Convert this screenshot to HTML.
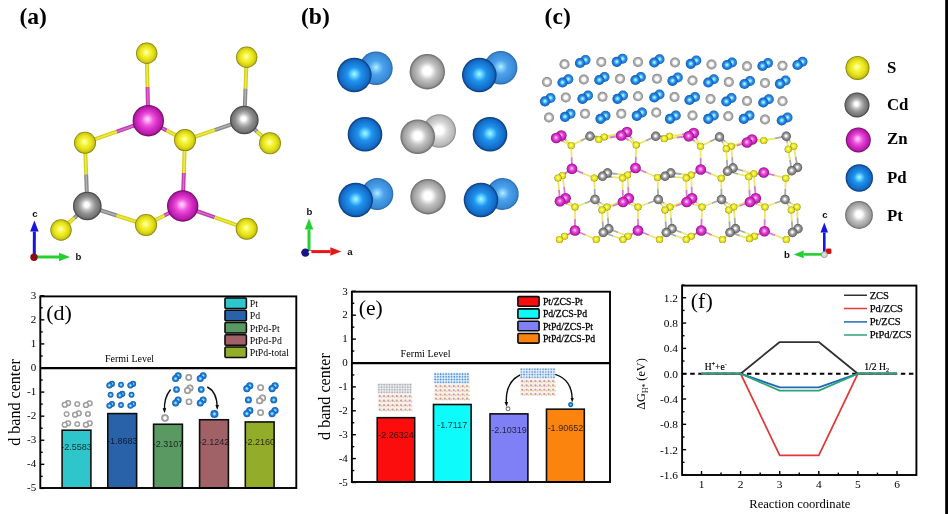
<!DOCTYPE html>
<html lang="en"><head><meta charset="utf-8"><title>Figure</title>
<style>html,body{margin:0;padding:0;background:#fff;overflow:hidden}svg{display:block}</style>
</head><body>
<svg width="948" height="514" viewBox="0 0 948 514">
<defs>
<radialGradient id="gS" cx="0.5" cy="0.5" r="0.5" fx="0.47" fy="0.45">
<stop offset="0" stop-color="#ffffd8"/>
<stop offset="0.13" stop-color="#ffff88"/>
<stop offset="0.36" stop-color="#f4f138"/>
<stop offset="0.6" stop-color="#e9e520"/>
<stop offset="0.86" stop-color="#ccc810"/>
<stop offset="1" stop-color="#7a7600"/>
</radialGradient>
<radialGradient id="gZn" cx="0.5" cy="0.5" r="0.5" fx="0.47" fy="0.45">
<stop offset="0" stop-color="#ffe4ff"/>
<stop offset="0.13" stop-color="#ffb0f8"/>
<stop offset="0.36" stop-color="#ee58de"/>
<stop offset="0.6" stop-color="#d830c8"/>
<stop offset="0.86" stop-color="#b81ca8"/>
<stop offset="1" stop-color="#6a0862"/>
</radialGradient>
<radialGradient id="gCd" cx="0.5" cy="0.5" r="0.5" fx="0.47" fy="0.45">
<stop offset="0" stop-color="#ffffff"/>
<stop offset="0.14" stop-color="#ffffff"/>
<stop offset="0.38" stop-color="#bcbcbc"/>
<stop offset="0.62" stop-color="#8e8e8e"/>
<stop offset="0.86" stop-color="#747474"/>
<stop offset="1" stop-color="#363636"/>
</radialGradient>
<radialGradient id="gPd" cx="0.5" cy="0.5" r="0.5" fx="0.5" fy="0.47">
<stop offset="0" stop-color="#b0f8ff"/>
<stop offset="0.14" stop-color="#70dcff"/>
<stop offset="0.4" stop-color="#2094f0"/>
<stop offset="0.86" stop-color="#1268c2"/>
<stop offset="1" stop-color="#063676"/>
</radialGradient>
<radialGradient id="gPdB" cx="0.5" cy="0.5" r="0.5" fx="0.5" fy="0.47">
<stop offset="0" stop-color="#b8f0ff"/>
<stop offset="0.16" stop-color="#84d0fc"/>
<stop offset="0.42" stop-color="#4ca2ec"/>
<stop offset="0.88" stop-color="#3888d4"/>
<stop offset="1" stop-color="#2464a8"/>
</radialGradient>
<radialGradient id="gPt" cx="0.5" cy="0.5" r="0.5" fx="0.5" fy="0.47">
<stop offset="0" stop-color="#ffffff"/>
<stop offset="0.22" stop-color="#ffffff"/>
<stop offset="0.5" stop-color="#c4c4c4"/>
<stop offset="0.86" stop-color="#9a9a9a"/>
<stop offset="1" stop-color="#666666"/>
</radialGradient>
<radialGradient id="gPtB" cx="0.5" cy="0.5" r="0.5" fx="0.5" fy="0.47">
<stop offset="0" stop-color="#ffffff"/>
<stop offset="0.22" stop-color="#ffffff"/>
<stop offset="0.5" stop-color="#d8d8d8"/>
<stop offset="0.88" stop-color="#b8b8b8"/>
<stop offset="1" stop-color="#888888"/>
</radialGradient>
<radialGradient id="gPdM" cx="0.5" cy="0.5" r="0.5" fx="0.5" fy="0.47">
<stop offset="0" stop-color="#b0f0ff"/>
<stop offset="0.16" stop-color="#78d0fc"/>
<stop offset="0.42" stop-color="#389cec"/>
<stop offset="0.85" stop-color="#2c80d4"/>
<stop offset="1" stop-color="#2068b4"/>
</radialGradient>
<radialGradient id="gsPt" cx="0.5" cy="0.5" r="0.5" fx="0.5" fy="0.48">
<stop offset="0" stop-color="#ffffff"/>
<stop offset="0.36" stop-color="#ffffff"/>
<stop offset="0.62" stop-color="#b8b8b8"/>
<stop offset="0.88" stop-color="#989898"/>
<stop offset="1" stop-color="#6c6c6c"/>
</radialGradient>
<radialGradient id="gsPd" cx="0.5" cy="0.5" r="0.5" fx="0.5" fy="0.48">
<stop offset="0" stop-color="#d4fcff"/>
<stop offset="0.26" stop-color="#74d2ff"/>
<stop offset="0.56" stop-color="#2088e8"/>
<stop offset="0.88" stop-color="#1668c4"/>
<stop offset="1" stop-color="#0a4088"/>
</radialGradient>
<radialGradient id="gsPdB" cx="0.5" cy="0.5" r="0.5" fx="0.5" fy="0.48">
<stop offset="0" stop-color="#d4fcff"/>
<stop offset="0.26" stop-color="#7cd6ff"/>
<stop offset="0.56" stop-color="#2c90ea"/>
<stop offset="0.88" stop-color="#1e72cc"/>
<stop offset="1" stop-color="#104c98"/>
</radialGradient>
<radialGradient id="gmg" cx="0.5" cy="0.5" r="0.5" fx="0.5" fy="0.5">
<stop offset="0" stop-color="#ffffff"/>
<stop offset="0.36" stop-color="#ffffff"/>
<stop offset="0.6" stop-color="#ababab"/>
<stop offset="0.9" stop-color="#959595"/>
<stop offset="1" stop-color="#808080"/>
</radialGradient>
<radialGradient id="gmb" cx="0.5" cy="0.5" r="0.5" fx="0.5" fy="0.5">
<stop offset="0" stop-color="#d0f4ff"/>
<stop offset="0.24" stop-color="#88d4ff"/>
<stop offset="0.52" stop-color="#2084e0"/>
<stop offset="0.9" stop-color="#1466c0"/>
<stop offset="1" stop-color="#0c4c98"/>
</radialGradient>
<marker id="ah" markerUnits="userSpaceOnUse" markerWidth="6" markerHeight="4" refX="2.4" refY="2" orient="auto"><path d="M0 0.2L5 2L0 3.8Z" fill="#111"/></marker>
<filter id="soft" x="0" y="0" width="948" height="514" filterUnits="userSpaceOnUse"><feGaussianBlur stdDeviation="0.45"/></filter>
</defs>
<rect width="948" height="514" fill="#fff"/>
<g filter="url(#soft)">
<g id="pa" stroke-linecap="butt" fill="none">
<path d="M146.7 53.3L147.5 87" stroke="#d4d018" stroke-width="4"/>
<path d="M147.5 87L148.3 120.7" stroke="#bc3cac" stroke-width="4"/>
<path d="M146.7 53.3L147.5 87" stroke="#ecea50" stroke-width="1.5"/>
<path d="M147.5 87L148.3 120.7" stroke="#dc68d0" stroke-width="1.5"/>
<path d="M246.7 57.3L245.5 88.65" stroke="#d4d018" stroke-width="4"/>
<path d="M245.5 88.65L244.3 120" stroke="#888888" stroke-width="4"/>
<path d="M246.7 57.3L245.5 88.65" stroke="#ecea50" stroke-width="1.5"/>
<path d="M245.5 88.65L244.3 120" stroke="#b0b0b0" stroke-width="1.5"/>
<path d="M148.3 120.7L116.65 131.7" stroke="#bc3cac" stroke-width="4"/>
<path d="M116.65 131.7L85 142.7" stroke="#d4d018" stroke-width="4"/>
<path d="M148.3 120.7L116.65 131.7" stroke="#dc68d0" stroke-width="1.5"/>
<path d="M116.65 131.7L85 142.7" stroke="#ecea50" stroke-width="1.5"/>
<path d="M148.3 120.7L166.65 130.4" stroke="#bc3cac" stroke-width="4"/>
<path d="M166.65 130.4L185 140.1" stroke="#d4d018" stroke-width="4"/>
<path d="M148.3 120.7L166.65 130.4" stroke="#dc68d0" stroke-width="1.5"/>
<path d="M166.65 130.4L185 140.1" stroke="#ecea50" stroke-width="1.5"/>
<path d="M244.3 120L214.65 130.05" stroke="#888888" stroke-width="4"/>
<path d="M214.65 130.05L185 140.1" stroke="#d4d018" stroke-width="4"/>
<path d="M244.3 120L214.65 130.05" stroke="#b0b0b0" stroke-width="1.5"/>
<path d="M214.65 130.05L185 140.1" stroke="#ecea50" stroke-width="1.5"/>
<path d="M244.3 120L257.15 131.65" stroke="#888888" stroke-width="4"/>
<path d="M257.15 131.65L270 143.3" stroke="#d4d018" stroke-width="4"/>
<path d="M244.3 120L257.15 131.65" stroke="#b0b0b0" stroke-width="1.5"/>
<path d="M257.15 131.65L270 143.3" stroke="#ecea50" stroke-width="1.5"/>
<path d="M85 142.7L86.15 174.35" stroke="#d4d018" stroke-width="4"/>
<path d="M86.15 174.35L87.3 206" stroke="#888888" stroke-width="4"/>
<path d="M85 142.7L86.15 174.35" stroke="#ecea50" stroke-width="1.5"/>
<path d="M86.15 174.35L87.3 206" stroke="#b0b0b0" stroke-width="1.5"/>
<path d="M185 140.1L183.85 173.05" stroke="#d4d018" stroke-width="4"/>
<path d="M183.85 173.05L182.7 206" stroke="#bc3cac" stroke-width="4"/>
<path d="M185 140.1L183.85 173.05" stroke="#ecea50" stroke-width="1.5"/>
<path d="M183.85 173.05L182.7 206" stroke="#dc68d0" stroke-width="1.5"/>
<path d="M87.3 206L74.15 218" stroke="#888888" stroke-width="4"/>
<path d="M74.15 218L61 230" stroke="#d4d018" stroke-width="4"/>
<path d="M87.3 206L74.15 218" stroke="#b0b0b0" stroke-width="1.5"/>
<path d="M74.15 218L61 230" stroke="#ecea50" stroke-width="1.5"/>
<path d="M87.3 206L116.65 215.5" stroke="#888888" stroke-width="4"/>
<path d="M116.65 215.5L146 225" stroke="#d4d018" stroke-width="4"/>
<path d="M87.3 206L116.65 215.5" stroke="#b0b0b0" stroke-width="1.5"/>
<path d="M116.65 215.5L146 225" stroke="#ecea50" stroke-width="1.5"/>
<path d="M182.7 206L164.35 215.5" stroke="#bc3cac" stroke-width="4"/>
<path d="M164.35 215.5L146 225" stroke="#d4d018" stroke-width="4"/>
<path d="M182.7 206L164.35 215.5" stroke="#dc68d0" stroke-width="1.5"/>
<path d="M164.35 215.5L146 225" stroke="#ecea50" stroke-width="1.5"/>
<path d="M182.7 206L214.7 217.35" stroke="#bc3cac" stroke-width="4"/>
<path d="M214.7 217.35L246.7 228.7" stroke="#d4d018" stroke-width="4"/>
<path d="M182.7 206L214.7 217.35" stroke="#dc68d0" stroke-width="1.5"/>
<path d="M214.7 217.35L246.7 228.7" stroke="#ecea50" stroke-width="1.5"/>
</g><g id="pa2">
<circle cx="146.7" cy="53.3" r="10.7" fill="url(#gS)"/>
<circle cx="246.7" cy="57.3" r="10.7" fill="url(#gS)"/>
<circle cx="148.3" cy="120.7" r="15.7" fill="url(#gZn)"/>
<circle cx="244.3" cy="120" r="14.3" fill="url(#gCd)"/>
<circle cx="270" cy="143.3" r="11" fill="url(#gS)"/>
<circle cx="185" cy="140.1" r="11" fill="url(#gS)"/>
<circle cx="85" cy="142.7" r="11" fill="url(#gS)"/>
<circle cx="87.3" cy="206" r="14.3" fill="url(#gCd)"/>
<circle cx="182.7" cy="206" r="15.7" fill="url(#gZn)"/>
<circle cx="61" cy="230" r="10.7" fill="url(#gS)"/>
<circle cx="146" cy="225" r="11" fill="url(#gS)"/>
<circle cx="246.7" cy="228.7" r="11" fill="url(#gS)"/>
</g>
<path d="M34.3 257L34.37 231.6" stroke="#1818e0" stroke-width="3" fill="none"/>
<path d="M34.4 220.6L38.62 231.61L30.12 231.59Z" fill="#1818e0"/>
<path d="M34.3 257L59 257" stroke="#20d030" stroke-width="3" fill="none"/>
<path d="M70 257L59 261.25L59 252.75Z" fill="#20d030"/>
<circle cx="34" cy="257.2" r="3.7" fill="#8c0c18"/>
<text x="35" y="217" font-family='"Liberation Sans", "DejaVu Sans", sans-serif' font-weight="bold" font-size="9.6" text-anchor="middle" fill="#111">c</text>
<text x="78.5" y="260" font-family='"Liberation Sans", "DejaVu Sans", sans-serif' font-weight="bold" font-size="9.6" text-anchor="middle" fill="#111">b</text>
<path d="M309 252L309 229.5" stroke="#20d030" stroke-width="3" fill="none"/>
<path d="M309 218.5L313.25 229.5L304.75 229.5Z" fill="#20d030"/>
<path d="M307 251.6L330.3 251.6" stroke="#e81818" stroke-width="3" fill="none"/>
<path d="M341.3 251.6L330.3 255.85L330.3 247.35Z" fill="#e81818"/>
<circle cx="305.4" cy="252.6" r="4.2" fill="#141480"/>
<circle cx="310" cy="252" r="1.6" fill="#f4f4f4"/>
<text x="309.4" y="214.6" font-family='"Liberation Sans", "DejaVu Sans", sans-serif' font-weight="bold" font-size="9.6" text-anchor="middle" fill="#111">b</text>
<text x="349.8" y="254.6" font-family='"Liberation Sans", "DejaVu Sans", sans-serif' font-weight="bold" font-size="9.6" text-anchor="middle" fill="#111">a</text>
<path d="M824.3 254L824.3 232.4" stroke="#1818e0" stroke-width="2.6" fill="none"/>
<path d="M824.3 222.4L828.1 232.4L820.5 232.4Z" fill="#1818e0"/>
<path d="M824.3 254.4L803.7 254.4" stroke="#20d030" stroke-width="2.6" fill="none"/>
<path d="M793.7 254.4L803.7 250.6L803.7 258.2Z" fill="#20d030"/>
<rect x="826" y="248.6" width="5.4" height="5.4" rx="1.4" fill="#d81010"/>
<circle cx="824.3" cy="254.6" r="3" fill="#d8d8d8" stroke="#888" stroke-width="0.8"/>
<text x="825" y="218.4" font-family='"Liberation Sans", "DejaVu Sans", sans-serif' font-weight="bold" font-size="9.6" text-anchor="middle" fill="#111">c</text>
<text x="786.9" y="257.6" font-family='"Liberation Sans", "DejaVu Sans", sans-serif' font-weight="bold" font-size="9.6" text-anchor="middle" fill="#111">b</text>
<text x="19.4" y="24" font-family='"Liberation Serif", "DejaVu Serif", serif' font-weight="bold" font-size="23.6" fill="#000">(a)</text>
<text x="301" y="24" font-family='"Liberation Serif", "DejaVu Serif", serif' font-weight="bold" font-size="23.6" fill="#000">(b)</text>
<text x="544.6" y="24" font-family='"Liberation Serif", "DejaVu Serif", serif' font-weight="bold" font-size="23.6" fill="#000">(c)</text>
<g id="pb">
<circle cx="376" cy="68.3" r="16.7" fill="url(#gPdB)"/>
<circle cx="354.3" cy="75" r="17.3" fill="url(#gPd)"/>
<circle cx="427.3" cy="71.7" r="17.7" fill="url(#gPt)"/>
<circle cx="500.7" cy="67.7" r="16.7" fill="url(#gPdB)"/>
<circle cx="479.3" cy="75" r="17.3" fill="url(#gPd)"/>
<circle cx="365" cy="134.3" r="17.3" fill="url(#gPd)"/>
<circle cx="439.3" cy="131" r="16.7" fill="url(#gPtB)"/>
<circle cx="417.7" cy="136.7" r="17.3" fill="url(#gPt)"/>
<circle cx="490" cy="134.3" r="17.3" fill="url(#gPd)"/>
<circle cx="377.3" cy="194" r="16" fill="url(#gPdB)"/>
<circle cx="355.7" cy="200" r="17.3" fill="url(#gPd)"/>
<circle cx="428" cy="196.7" r="17.7" fill="url(#gPt)"/>
<circle cx="502.7" cy="194" r="16" fill="url(#gPdB)"/>
<circle cx="481" cy="200" r="17.3" fill="url(#gPd)"/>
</g>
<g id="pc">
<circle cx="564.5" cy="64.3" r="5" fill="url(#gsPt)"/>
<circle cx="601.3" cy="62" r="5" fill="url(#gsPt)"/>
<circle cx="638" cy="62" r="5" fill="url(#gsPt)"/>
<circle cx="675" cy="62.5" r="5" fill="url(#gsPt)"/>
<circle cx="711.5" cy="64.5" r="5" fill="url(#gsPt)"/>
<circle cx="747" cy="66.3" r="5" fill="url(#gsPt)"/>
<circle cx="782.5" cy="65.8" r="5" fill="url(#gsPt)"/>
<circle cx="547" cy="82" r="5" fill="url(#gsPt)"/>
<circle cx="583.8" cy="79.5" r="5" fill="url(#gsPt)"/>
<circle cx="620" cy="78.8" r="5" fill="url(#gsPt)"/>
<circle cx="657" cy="78.8" r="5" fill="url(#gsPt)"/>
<circle cx="692.5" cy="80.5" r="5" fill="url(#gsPt)"/>
<circle cx="728.8" cy="82" r="5" fill="url(#gsPt)"/>
<circle cx="765" cy="83" r="5" fill="url(#gsPt)"/>
<circle cx="565.8" cy="97.5" r="5" fill="url(#gsPt)"/>
<circle cx="602.5" cy="96.8" r="5" fill="url(#gsPt)"/>
<circle cx="638" cy="96.3" r="5" fill="url(#gsPt)"/>
<circle cx="674.5" cy="97" r="5" fill="url(#gsPt)"/>
<circle cx="710.5" cy="99" r="5" fill="url(#gsPt)"/>
<circle cx="747" cy="101" r="5" fill="url(#gsPt)"/>
<circle cx="782.5" cy="101.3" r="5" fill="url(#gsPt)"/>
<circle cx="549" cy="117.5" r="5" fill="url(#gsPt)"/>
<circle cx="585" cy="113.8" r="5" fill="url(#gsPt)"/>
<circle cx="621.3" cy="113.8" r="5" fill="url(#gsPt)"/>
<circle cx="656.3" cy="112.5" r="5" fill="url(#gsPt)"/>
<circle cx="692.5" cy="115.5" r="5" fill="url(#gsPt)"/>
<circle cx="728.3" cy="116.3" r="5" fill="url(#gsPt)"/>
<circle cx="765" cy="119.5" r="5" fill="url(#gsPt)"/>
<circle cx="585.5" cy="60" r="5" fill="url(#gsPdB)"/>
<circle cx="580" cy="63" r="5.1" fill="url(#gsPd)"/>
<circle cx="622.5" cy="58.8" r="5" fill="url(#gsPdB)"/>
<circle cx="616.8" cy="61.8" r="5.1" fill="url(#gsPd)"/>
<circle cx="659.5" cy="59.3" r="5" fill="url(#gsPdB)"/>
<circle cx="654.3" cy="62.5" r="5.1" fill="url(#gsPd)"/>
<circle cx="696.3" cy="60.5" r="5" fill="url(#gsPdB)"/>
<circle cx="690.8" cy="63.8" r="5.1" fill="url(#gsPd)"/>
<circle cx="732" cy="62.5" r="5" fill="url(#gsPdB)"/>
<circle cx="727" cy="65" r="5.1" fill="url(#gsPd)"/>
<circle cx="768" cy="63" r="5" fill="url(#gsPdB)"/>
<circle cx="762.5" cy="66" r="5.1" fill="url(#gsPd)"/>
<circle cx="802.5" cy="61.8" r="5" fill="url(#gsPdB)"/>
<circle cx="797.5" cy="65" r="5.1" fill="url(#gsPd)"/>
<circle cx="568.3" cy="79.3" r="5" fill="url(#gsPdB)"/>
<circle cx="562.5" cy="82.5" r="5.1" fill="url(#gsPd)"/>
<circle cx="604.5" cy="77" r="5" fill="url(#gsPdB)"/>
<circle cx="599.3" cy="80" r="5.1" fill="url(#gsPd)"/>
<circle cx="640.8" cy="77" r="5" fill="url(#gsPdB)"/>
<circle cx="635.5" cy="80" r="5.1" fill="url(#gsPd)"/>
<circle cx="677.8" cy="77.5" r="5" fill="url(#gsPdB)"/>
<circle cx="672.5" cy="80.8" r="5.1" fill="url(#gsPd)"/>
<circle cx="713.8" cy="79.3" r="5" fill="url(#gsPdB)"/>
<circle cx="708.3" cy="82.5" r="5.1" fill="url(#gsPd)"/>
<circle cx="750" cy="81" r="5" fill="url(#gsPdB)"/>
<circle cx="744.5" cy="84" r="5.1" fill="url(#gsPd)"/>
<circle cx="785.5" cy="80.5" r="5" fill="url(#gsPdB)"/>
<circle cx="780" cy="83.8" r="5.1" fill="url(#gsPd)"/>
<circle cx="550.5" cy="98" r="5" fill="url(#gsPdB)"/>
<circle cx="545" cy="101.3" r="5.1" fill="url(#gsPd)"/>
<circle cx="588" cy="95.5" r="5" fill="url(#gsPdB)"/>
<circle cx="582.5" cy="98.8" r="5.1" fill="url(#gsPd)"/>
<circle cx="623" cy="95.5" r="5" fill="url(#gsPdB)"/>
<circle cx="617.5" cy="98.8" r="5.1" fill="url(#gsPd)"/>
<circle cx="659.5" cy="94.5" r="5" fill="url(#gsPdB)"/>
<circle cx="654.3" cy="97.5" r="5.1" fill="url(#gsPd)"/>
<circle cx="695" cy="97" r="5" fill="url(#gsPdB)"/>
<circle cx="689.5" cy="100" r="5.1" fill="url(#gsPd)"/>
<circle cx="731.5" cy="98" r="5" fill="url(#gsPdB)"/>
<circle cx="726.3" cy="101.5" r="5.1" fill="url(#gsPd)"/>
<circle cx="768.8" cy="99.3" r="5" fill="url(#gsPdB)"/>
<circle cx="763.3" cy="102.5" r="5.1" fill="url(#gsPd)"/>
<circle cx="570.5" cy="113.8" r="5" fill="url(#gsPdB)"/>
<circle cx="565" cy="116.8" r="5.1" fill="url(#gsPd)"/>
<circle cx="605.5" cy="115.8" r="5" fill="url(#gsPdB)"/>
<circle cx="600.5" cy="118.8" r="5.1" fill="url(#gsPd)"/>
<circle cx="642" cy="112.5" r="5" fill="url(#gsPdB)"/>
<circle cx="636.8" cy="115.8" r="5.1" fill="url(#gsPd)"/>
<circle cx="675.8" cy="115.5" r="5" fill="url(#gsPdB)"/>
<circle cx="670" cy="118.8" r="5.1" fill="url(#gsPd)"/>
<circle cx="713.8" cy="115.5" r="5" fill="url(#gsPdB)"/>
<circle cx="708.3" cy="118.8" r="5.1" fill="url(#gsPd)"/>
<circle cx="749.5" cy="115.5" r="5" fill="url(#gsPdB)"/>
<circle cx="743.8" cy="118.8" r="5.1" fill="url(#gsPd)"/>
<circle cx="787.5" cy="117.5" r="5" fill="url(#gsPdB)"/>
<circle cx="781.8" cy="120.5" r="5.1" fill="url(#gsPd)"/>
<g fill="none" stroke-linecap="butt">
<path d="M561.25 135.5L566.25 140.5" stroke="#da7cce" stroke-width="1.8"/>
<path d="M566.25 140.5L571.25 145.5" stroke="#eae868" stroke-width="1.8"/>
<path d="M556.25 138L563.75 141.75" stroke="#da7cce" stroke-width="1.8"/>
<path d="M563.75 141.75L571.25 145.5" stroke="#eae868" stroke-width="1.8"/>
<path d="M627 132L631.62 138.5" stroke="#da7cce" stroke-width="1.8"/>
<path d="M631.62 138.5L636.25 145" stroke="#eae868" stroke-width="1.8"/>
<path d="M627 132L615.62 134.5" stroke="#da7cce" stroke-width="1.8"/>
<path d="M615.62 134.5L604.25 137" stroke="#eae868" stroke-width="1.8"/>
<path d="M621.25 135.5L628.75 140.25" stroke="#da7cce" stroke-width="1.8"/>
<path d="M628.75 140.25L636.25 145" stroke="#eae868" stroke-width="1.8"/>
<path d="M621.25 135.5L610 137.5" stroke="#da7cce" stroke-width="1.8"/>
<path d="M610 137.5L598.75 139.5" stroke="#eae868" stroke-width="1.8"/>
<path d="M693.75 133L697.12 139.62" stroke="#da7cce" stroke-width="1.8"/>
<path d="M697.12 139.62L700.5 146.25" stroke="#eae868" stroke-width="1.8"/>
<path d="M693.75 133L681.62 134.62" stroke="#da7cce" stroke-width="1.8"/>
<path d="M681.62 134.62L669.5 136.25" stroke="#eae868" stroke-width="1.8"/>
<path d="M688.75 136.25L694.62 141.25" stroke="#da7cce" stroke-width="1.8"/>
<path d="M694.62 141.25L700.5 146.25" stroke="#eae868" stroke-width="1.8"/>
<path d="M688.75 136.25L676.5 137.5" stroke="#da7cce" stroke-width="1.8"/>
<path d="M676.5 137.5L664.25 138.75" stroke="#eae868" stroke-width="1.8"/>
<path d="M752 139.5L757.88 140" stroke="#da7cce" stroke-width="1.8"/>
<path d="M757.88 140L763.75 140.5" stroke="#eae868" stroke-width="1.8"/>
<path d="M752 139.5L741.62 142.88" stroke="#da7cce" stroke-width="1.8"/>
<path d="M741.62 142.88L731.25 146.25" stroke="#eae868" stroke-width="1.8"/>
<path d="M747 142.5L755.38 141.5" stroke="#da7cce" stroke-width="1.8"/>
<path d="M755.38 141.5L763.75 140.5" stroke="#eae868" stroke-width="1.8"/>
<path d="M747 142.5L736.62 145.62" stroke="#da7cce" stroke-width="1.8"/>
<path d="M736.62 145.62L726.25 148.75" stroke="#eae868" stroke-width="1.8"/>
<path d="M590 136.25L580.62 140.88" stroke="#aaaaaa" stroke-width="1.8"/>
<path d="M580.62 140.88L571.25 145.5" stroke="#eae868" stroke-width="1.8"/>
<path d="M590 136.25L597.12 136.62" stroke="#aaaaaa" stroke-width="1.8"/>
<path d="M597.12 136.62L604.25 137" stroke="#eae868" stroke-width="1.8"/>
<path d="M590 136.25L594.38 137.88" stroke="#aaaaaa" stroke-width="1.8"/>
<path d="M594.38 137.88L598.75 139.5" stroke="#eae868" stroke-width="1.8"/>
<path d="M655.75 136.25L646 140.62" stroke="#aaaaaa" stroke-width="1.8"/>
<path d="M646 140.62L636.25 145" stroke="#eae868" stroke-width="1.8"/>
<path d="M655.75 136.25L662.62 136.25" stroke="#aaaaaa" stroke-width="1.8"/>
<path d="M662.62 136.25L669.5 136.25" stroke="#eae868" stroke-width="1.8"/>
<path d="M655.75 136.25L660 137.5" stroke="#aaaaaa" stroke-width="1.8"/>
<path d="M660 137.5L664.25 138.75" stroke="#eae868" stroke-width="1.8"/>
<path d="M719.5 137L710 141.62" stroke="#aaaaaa" stroke-width="1.8"/>
<path d="M710 141.62L700.5 146.25" stroke="#eae868" stroke-width="1.8"/>
<path d="M719.5 137L725.38 141.62" stroke="#aaaaaa" stroke-width="1.8"/>
<path d="M725.38 141.62L731.25 146.25" stroke="#eae868" stroke-width="1.8"/>
<path d="M719.5 137L722.88 142.88" stroke="#aaaaaa" stroke-width="1.8"/>
<path d="M722.88 142.88L726.25 148.75" stroke="#eae868" stroke-width="1.8"/>
<path d="M572 168.75L571.62 157.12" stroke="#da7cce" stroke-width="1.8"/>
<path d="M571.62 157.12L571.25 145.5" stroke="#eae868" stroke-width="1.8"/>
<path d="M572 168.75L567.25 172.12" stroke="#da7cce" stroke-width="1.8"/>
<path d="M567.25 172.12L562.5 175.5" stroke="#eae868" stroke-width="1.8"/>
<path d="M572 168.75L565 173.38" stroke="#da7cce" stroke-width="1.8"/>
<path d="M565 173.38L558 178" stroke="#eae868" stroke-width="1.8"/>
<path d="M572 168.75L583.12 173.38" stroke="#da7cce" stroke-width="1.8"/>
<path d="M583.12 173.38L594.25 178" stroke="#eae868" stroke-width="1.8"/>
<path d="M635.5 168L635.88 156.5" stroke="#da7cce" stroke-width="1.8"/>
<path d="M635.88 156.5L636.25 145" stroke="#eae868" stroke-width="1.8"/>
<path d="M635.5 168L631.5 171.5" stroke="#da7cce" stroke-width="1.8"/>
<path d="M631.5 171.5L627.5 175" stroke="#eae868" stroke-width="1.8"/>
<path d="M635.5 168L629 173" stroke="#da7cce" stroke-width="1.8"/>
<path d="M629 173L622.5 178" stroke="#eae868" stroke-width="1.8"/>
<path d="M635.5 168L646.5 172.75" stroke="#da7cce" stroke-width="1.8"/>
<path d="M646.5 172.75L657.5 177.5" stroke="#eae868" stroke-width="1.8"/>
<path d="M700.75 169.5L700.62 157.88" stroke="#da7cce" stroke-width="1.8"/>
<path d="M700.62 157.88L700.5 146.25" stroke="#eae868" stroke-width="1.8"/>
<path d="M700.75 169.5L696 172.25" stroke="#da7cce" stroke-width="1.8"/>
<path d="M696 172.25L691.25 175" stroke="#eae868" stroke-width="1.8"/>
<path d="M700.75 169.5L693.5 173.75" stroke="#da7cce" stroke-width="1.8"/>
<path d="M693.5 173.75L686.25 178" stroke="#eae868" stroke-width="1.8"/>
<path d="M700.75 169.5L711 173.88" stroke="#da7cce" stroke-width="1.8"/>
<path d="M711 173.88L721.25 178.25" stroke="#eae868" stroke-width="1.8"/>
<path d="M763.75 172.5L758.75 173.12" stroke="#da7cce" stroke-width="1.8"/>
<path d="M758.75 173.12L753.75 173.75" stroke="#eae868" stroke-width="1.8"/>
<path d="M763.75 172.5L756.25 174.62" stroke="#da7cce" stroke-width="1.8"/>
<path d="M756.25 174.62L748.75 176.75" stroke="#eae868" stroke-width="1.8"/>
<path d="M763.75 172.5L774.75 175.38" stroke="#da7cce" stroke-width="1.8"/>
<path d="M774.75 175.38L785.75 178.25" stroke="#eae868" stroke-width="1.8"/>
<path d="M607.5 173L617.5 174" stroke="#aaaaaa" stroke-width="1.8"/>
<path d="M617.5 174L627.5 175" stroke="#eae868" stroke-width="1.8"/>
<path d="M607.5 173L600.88 175.5" stroke="#aaaaaa" stroke-width="1.8"/>
<path d="M600.88 175.5L594.25 178" stroke="#eae868" stroke-width="1.8"/>
<path d="M602.5 176.25L612.5 177.12" stroke="#aaaaaa" stroke-width="1.8"/>
<path d="M612.5 177.12L622.5 178" stroke="#eae868" stroke-width="1.8"/>
<path d="M602.5 176.25L598.38 177.12" stroke="#aaaaaa" stroke-width="1.8"/>
<path d="M598.38 177.12L594.25 178" stroke="#eae868" stroke-width="1.8"/>
<path d="M670.75 173L681 174" stroke="#aaaaaa" stroke-width="1.8"/>
<path d="M681 174L691.25 175" stroke="#eae868" stroke-width="1.8"/>
<path d="M670.75 173L664.12 175.25" stroke="#aaaaaa" stroke-width="1.8"/>
<path d="M664.12 175.25L657.5 177.5" stroke="#eae868" stroke-width="1.8"/>
<path d="M665 176.25L675.62 177.12" stroke="#aaaaaa" stroke-width="1.8"/>
<path d="M675.62 177.12L686.25 178" stroke="#eae868" stroke-width="1.8"/>
<path d="M665 176.25L661.25 176.88" stroke="#aaaaaa" stroke-width="1.8"/>
<path d="M661.25 176.88L657.5 177.5" stroke="#eae868" stroke-width="1.8"/>
<path d="M733 168L732.12 157.12" stroke="#aaaaaa" stroke-width="1.8"/>
<path d="M732.12 157.12L731.25 146.25" stroke="#eae868" stroke-width="1.8"/>
<path d="M733 168L743.38 170.88" stroke="#aaaaaa" stroke-width="1.8"/>
<path d="M743.38 170.88L753.75 173.75" stroke="#eae868" stroke-width="1.8"/>
<path d="M733 168L727.12 173.12" stroke="#aaaaaa" stroke-width="1.8"/>
<path d="M727.12 173.12L721.25 178.25" stroke="#eae868" stroke-width="1.8"/>
<path d="M727.5 171.25L726.88 160" stroke="#aaaaaa" stroke-width="1.8"/>
<path d="M726.88 160L726.25 148.75" stroke="#eae868" stroke-width="1.8"/>
<path d="M727.5 171.25L738.12 174" stroke="#aaaaaa" stroke-width="1.8"/>
<path d="M738.12 174L748.75 176.75" stroke="#eae868" stroke-width="1.8"/>
<path d="M727.5 171.25L724.38 174.75" stroke="#aaaaaa" stroke-width="1.8"/>
<path d="M724.38 174.75L721.25 178.25" stroke="#eae868" stroke-width="1.8"/>
<path d="M565.5 198.25L564 186.88" stroke="#da7cce" stroke-width="1.8"/>
<path d="M564 186.88L562.5 175.5" stroke="#eae868" stroke-width="1.8"/>
<path d="M565.5 198.25L570.25 202.62" stroke="#da7cce" stroke-width="1.8"/>
<path d="M570.25 202.62L575 207" stroke="#eae868" stroke-width="1.8"/>
<path d="M560 201.25L559 189.62" stroke="#da7cce" stroke-width="1.8"/>
<path d="M559 189.62L558 178" stroke="#eae868" stroke-width="1.8"/>
<path d="M560 201.25L567.5 204.12" stroke="#da7cce" stroke-width="1.8"/>
<path d="M567.5 204.12L575 207" stroke="#eae868" stroke-width="1.8"/>
<path d="M628.75 198.25L628.12 186.62" stroke="#da7cce" stroke-width="1.8"/>
<path d="M628.12 186.62L627.5 175" stroke="#eae868" stroke-width="1.8"/>
<path d="M628.75 198.25L633.38 202.62" stroke="#da7cce" stroke-width="1.8"/>
<path d="M633.38 202.62L638 207" stroke="#eae868" stroke-width="1.8"/>
<path d="M628.75 198.25L617.88 202.62" stroke="#da7cce" stroke-width="1.8"/>
<path d="M617.88 202.62L607 207" stroke="#eae868" stroke-width="1.8"/>
<path d="M623 202L622.75 190" stroke="#da7cce" stroke-width="1.8"/>
<path d="M622.75 190L622.5 178" stroke="#eae868" stroke-width="1.8"/>
<path d="M623 202L630.5 204.5" stroke="#da7cce" stroke-width="1.8"/>
<path d="M630.5 204.5L638 207" stroke="#eae868" stroke-width="1.8"/>
<path d="M623 202L612.5 206" stroke="#da7cce" stroke-width="1.8"/>
<path d="M612.5 206L602 210" stroke="#eae868" stroke-width="1.8"/>
<path d="M692 198.25L691.62 186.62" stroke="#da7cce" stroke-width="1.8"/>
<path d="M691.62 186.62L691.25 175" stroke="#eae868" stroke-width="1.8"/>
<path d="M692 198.25L697 202.62" stroke="#da7cce" stroke-width="1.8"/>
<path d="M697 202.62L702 207" stroke="#eae868" stroke-width="1.8"/>
<path d="M692 198.25L681 202.62" stroke="#da7cce" stroke-width="1.8"/>
<path d="M681 202.62L670 207" stroke="#eae868" stroke-width="1.8"/>
<path d="M686.75 202L686.5 190" stroke="#da7cce" stroke-width="1.8"/>
<path d="M686.5 190L686.25 178" stroke="#eae868" stroke-width="1.8"/>
<path d="M686.75 202L694.38 204.5" stroke="#da7cce" stroke-width="1.8"/>
<path d="M694.38 204.5L702 207" stroke="#eae868" stroke-width="1.8"/>
<path d="M686.75 202L675.88 206" stroke="#da7cce" stroke-width="1.8"/>
<path d="M675.88 206L665 210" stroke="#eae868" stroke-width="1.8"/>
<path d="M755.75 198.25L754.75 186" stroke="#da7cce" stroke-width="1.8"/>
<path d="M754.75 186L753.75 173.75" stroke="#eae868" stroke-width="1.8"/>
<path d="M755.75 198.25L760.38 202.62" stroke="#da7cce" stroke-width="1.8"/>
<path d="M760.38 202.62L765 207" stroke="#eae868" stroke-width="1.8"/>
<path d="M755.75 198.25L744.75 202.62" stroke="#da7cce" stroke-width="1.8"/>
<path d="M744.75 202.62L733.75 207" stroke="#eae868" stroke-width="1.8"/>
<path d="M750 202L749.38 189.38" stroke="#da7cce" stroke-width="1.8"/>
<path d="M749.38 189.38L748.75 176.75" stroke="#eae868" stroke-width="1.8"/>
<path d="M750 202L757.5 204.5" stroke="#da7cce" stroke-width="1.8"/>
<path d="M757.5 204.5L765 207" stroke="#eae868" stroke-width="1.8"/>
<path d="M750 202L739.38 206" stroke="#da7cce" stroke-width="1.8"/>
<path d="M739.38 206L728.75 210" stroke="#eae868" stroke-width="1.8"/>
<path d="M595 199.5L594.62 188.75" stroke="#aaaaaa" stroke-width="1.8"/>
<path d="M594.62 188.75L594.25 178" stroke="#eae868" stroke-width="1.8"/>
<path d="M595 199.5L585 203.25" stroke="#aaaaaa" stroke-width="1.8"/>
<path d="M585 203.25L575 207" stroke="#eae868" stroke-width="1.8"/>
<path d="M595 199.5L601 203.25" stroke="#aaaaaa" stroke-width="1.8"/>
<path d="M601 203.25L607 207" stroke="#eae868" stroke-width="1.8"/>
<path d="M595 199.5L598.5 204.75" stroke="#aaaaaa" stroke-width="1.8"/>
<path d="M598.5 204.75L602 210" stroke="#eae868" stroke-width="1.8"/>
<path d="M658.25 199.5L657.88 188.5" stroke="#aaaaaa" stroke-width="1.8"/>
<path d="M657.88 188.5L657.5 177.5" stroke="#eae868" stroke-width="1.8"/>
<path d="M658.25 199.5L648.12 203.25" stroke="#aaaaaa" stroke-width="1.8"/>
<path d="M648.12 203.25L638 207" stroke="#eae868" stroke-width="1.8"/>
<path d="M658.25 199.5L664.12 203.25" stroke="#aaaaaa" stroke-width="1.8"/>
<path d="M664.12 203.25L670 207" stroke="#eae868" stroke-width="1.8"/>
<path d="M658.25 199.5L661.62 204.75" stroke="#aaaaaa" stroke-width="1.8"/>
<path d="M661.62 204.75L665 210" stroke="#eae868" stroke-width="1.8"/>
<path d="M721.5 199.5L721.38 188.88" stroke="#aaaaaa" stroke-width="1.8"/>
<path d="M721.38 188.88L721.25 178.25" stroke="#eae868" stroke-width="1.8"/>
<path d="M721.5 199.5L711.75 203.25" stroke="#aaaaaa" stroke-width="1.8"/>
<path d="M711.75 203.25L702 207" stroke="#eae868" stroke-width="1.8"/>
<path d="M721.5 199.5L727.62 203.25" stroke="#aaaaaa" stroke-width="1.8"/>
<path d="M727.62 203.25L733.75 207" stroke="#eae868" stroke-width="1.8"/>
<path d="M721.5 199.5L725.12 204.75" stroke="#aaaaaa" stroke-width="1.8"/>
<path d="M725.12 204.75L728.75 210" stroke="#eae868" stroke-width="1.8"/>
<path d="M575 230.5L575 218.75" stroke="#da7cce" stroke-width="1.8"/>
<path d="M575 218.75L575 207" stroke="#eae868" stroke-width="1.8"/>
<path d="M575 230.5L569.75 233.38" stroke="#da7cce" stroke-width="1.8"/>
<path d="M569.75 233.38L564.5 236.25" stroke="#eae868" stroke-width="1.8"/>
<path d="M575 230.5L567.25 235" stroke="#da7cce" stroke-width="1.8"/>
<path d="M567.25 235L559.5 239.5" stroke="#eae868" stroke-width="1.8"/>
<path d="M575 230.5L585.62 235" stroke="#da7cce" stroke-width="1.8"/>
<path d="M585.62 235L596.25 239.5" stroke="#eae868" stroke-width="1.8"/>
<path d="M638 230.5L638 218.75" stroke="#da7cce" stroke-width="1.8"/>
<path d="M638 218.75L638 207" stroke="#eae868" stroke-width="1.8"/>
<path d="M638 230.5L633 233.38" stroke="#da7cce" stroke-width="1.8"/>
<path d="M633 233.38L628 236.25" stroke="#eae868" stroke-width="1.8"/>
<path d="M638 230.5L630.5 235" stroke="#da7cce" stroke-width="1.8"/>
<path d="M630.5 235L623 239.5" stroke="#eae868" stroke-width="1.8"/>
<path d="M638 230.5L648.75 235" stroke="#da7cce" stroke-width="1.8"/>
<path d="M648.75 235L659.5 239.5" stroke="#eae868" stroke-width="1.8"/>
<path d="M701.25 230.5L701.62 218.75" stroke="#da7cce" stroke-width="1.8"/>
<path d="M701.62 218.75L702 207" stroke="#eae868" stroke-width="1.8"/>
<path d="M701.25 230.5L696.25 233.38" stroke="#da7cce" stroke-width="1.8"/>
<path d="M696.25 233.38L691.25 236.25" stroke="#eae868" stroke-width="1.8"/>
<path d="M701.25 230.5L693.75 235" stroke="#da7cce" stroke-width="1.8"/>
<path d="M693.75 235L686.25 239.5" stroke="#eae868" stroke-width="1.8"/>
<path d="M701.25 230.5L711.88 235" stroke="#da7cce" stroke-width="1.8"/>
<path d="M711.88 235L722.5 239.5" stroke="#eae868" stroke-width="1.8"/>
<path d="M764.5 231.25L764.75 219.12" stroke="#da7cce" stroke-width="1.8"/>
<path d="M764.75 219.12L765 207" stroke="#eae868" stroke-width="1.8"/>
<path d="M764.5 231.25L759.5 233.75" stroke="#da7cce" stroke-width="1.8"/>
<path d="M759.5 233.75L754.5 236.25" stroke="#eae868" stroke-width="1.8"/>
<path d="M764.5 231.25L757 235" stroke="#da7cce" stroke-width="1.8"/>
<path d="M757 235L749.5 238.75" stroke="#eae868" stroke-width="1.8"/>
<path d="M764.5 231.25L775.38 235.38" stroke="#da7cce" stroke-width="1.8"/>
<path d="M775.38 235.38L786.25 239.5" stroke="#eae868" stroke-width="1.8"/>
<path d="M608.75 228.75L607.88 217.88" stroke="#aaaaaa" stroke-width="1.8"/>
<path d="M607.88 217.88L607 207" stroke="#eae868" stroke-width="1.8"/>
<path d="M608.75 228.75L618.38 232.5" stroke="#aaaaaa" stroke-width="1.8"/>
<path d="M618.38 232.5L628 236.25" stroke="#eae868" stroke-width="1.8"/>
<path d="M608.75 228.75L602.5 234.12" stroke="#aaaaaa" stroke-width="1.8"/>
<path d="M602.5 234.12L596.25 239.5" stroke="#eae868" stroke-width="1.8"/>
<path d="M603.25 232.5L602.62 221.25" stroke="#aaaaaa" stroke-width="1.8"/>
<path d="M602.62 221.25L602 210" stroke="#eae868" stroke-width="1.8"/>
<path d="M603.25 232.5L613.12 236" stroke="#aaaaaa" stroke-width="1.8"/>
<path d="M613.12 236L623 239.5" stroke="#eae868" stroke-width="1.8"/>
<path d="M603.25 232.5L599.75 236" stroke="#aaaaaa" stroke-width="1.8"/>
<path d="M599.75 236L596.25 239.5" stroke="#eae868" stroke-width="1.8"/>
<path d="M672 228.75L671 217.88" stroke="#aaaaaa" stroke-width="1.8"/>
<path d="M671 217.88L670 207" stroke="#eae868" stroke-width="1.8"/>
<path d="M672 228.75L681.62 232.5" stroke="#aaaaaa" stroke-width="1.8"/>
<path d="M681.62 232.5L691.25 236.25" stroke="#eae868" stroke-width="1.8"/>
<path d="M672 228.75L665.75 234.12" stroke="#aaaaaa" stroke-width="1.8"/>
<path d="M665.75 234.12L659.5 239.5" stroke="#eae868" stroke-width="1.8"/>
<path d="M666.25 232.5L665.62 221.25" stroke="#aaaaaa" stroke-width="1.8"/>
<path d="M665.62 221.25L665 210" stroke="#eae868" stroke-width="1.8"/>
<path d="M666.25 232.5L676.25 236" stroke="#aaaaaa" stroke-width="1.8"/>
<path d="M676.25 236L686.25 239.5" stroke="#eae868" stroke-width="1.8"/>
<path d="M666.25 232.5L662.88 236" stroke="#aaaaaa" stroke-width="1.8"/>
<path d="M662.88 236L659.5 239.5" stroke="#eae868" stroke-width="1.8"/>
<path d="M735.5 228.75L734.62 217.88" stroke="#aaaaaa" stroke-width="1.8"/>
<path d="M734.62 217.88L733.75 207" stroke="#eae868" stroke-width="1.8"/>
<path d="M735.5 228.75L745 232.5" stroke="#aaaaaa" stroke-width="1.8"/>
<path d="M745 232.5L754.5 236.25" stroke="#eae868" stroke-width="1.8"/>
<path d="M735.5 228.75L729 234.12" stroke="#aaaaaa" stroke-width="1.8"/>
<path d="M729 234.12L722.5 239.5" stroke="#eae868" stroke-width="1.8"/>
<path d="M730 232.5L729.38 221.25" stroke="#aaaaaa" stroke-width="1.8"/>
<path d="M729.38 221.25L728.75 210" stroke="#eae868" stroke-width="1.8"/>
<path d="M730 232.5L739.75 235.62" stroke="#aaaaaa" stroke-width="1.8"/>
<path d="M739.75 235.62L749.5 238.75" stroke="#eae868" stroke-width="1.8"/>
<path d="M730 232.5L726.25 236" stroke="#aaaaaa" stroke-width="1.8"/>
<path d="M726.25 236L722.5 239.5" stroke="#eae868" stroke-width="1.8"/>
<path d="M786.25 136.25L775 138.38" stroke="#aaaaaa" stroke-width="1.8"/>
<path d="M775 138.38L763.75 140.5" stroke="#eae868" stroke-width="1.8"/>
<path d="M786.25 136.25L790 141.25" stroke="#aaaaaa" stroke-width="1.8"/>
<path d="M790 141.25L793.75 146.25" stroke="#eae868" stroke-width="1.8"/>
<path d="M786.25 136.25L787.25 142.75" stroke="#aaaaaa" stroke-width="1.8"/>
<path d="M787.25 142.75L788.25 149.25" stroke="#eae868" stroke-width="1.8"/>
<path d="M797.5 167.5L795.62 156.88" stroke="#aaaaaa" stroke-width="1.8"/>
<path d="M795.62 156.88L793.75 146.25" stroke="#eae868" stroke-width="1.8"/>
<path d="M797.5 167.5L791.62 172.88" stroke="#aaaaaa" stroke-width="1.8"/>
<path d="M791.62 172.88L785.75 178.25" stroke="#eae868" stroke-width="1.8"/>
<path d="M791.75 170.75L790 160" stroke="#aaaaaa" stroke-width="1.8"/>
<path d="M790 160L788.25 149.25" stroke="#eae868" stroke-width="1.8"/>
<path d="M791.75 170.75L788.75 174.5" stroke="#aaaaaa" stroke-width="1.8"/>
<path d="M788.75 174.5L785.75 178.25" stroke="#eae868" stroke-width="1.8"/>
<path d="M785 199.5L775 203.25" stroke="#aaaaaa" stroke-width="1.8"/>
<path d="M775 203.25L765 207" stroke="#eae868" stroke-width="1.8"/>
<path d="M785 199.5L785.38 188.88" stroke="#aaaaaa" stroke-width="1.8"/>
<path d="M785.38 188.88L785.75 178.25" stroke="#eae868" stroke-width="1.8"/>
<path d="M785 199.5L791 203.25" stroke="#aaaaaa" stroke-width="1.8"/>
<path d="M791 203.25L797 207" stroke="#eae868" stroke-width="1.8"/>
<path d="M785 199.5L788.12 204.75" stroke="#aaaaaa" stroke-width="1.8"/>
<path d="M788.12 204.75L791.25 210" stroke="#eae868" stroke-width="1.8"/>
<path d="M798 228.75L797.5 217.88" stroke="#aaaaaa" stroke-width="1.8"/>
<path d="M797.5 217.88L797 207" stroke="#eae868" stroke-width="1.8"/>
<path d="M798 228.75L792.12 234.12" stroke="#aaaaaa" stroke-width="1.8"/>
<path d="M792.12 234.12L786.25 239.5" stroke="#eae868" stroke-width="1.8"/>
<path d="M792.5 232.5L791.88 221.25" stroke="#aaaaaa" stroke-width="1.8"/>
<path d="M791.88 221.25L791.25 210" stroke="#eae868" stroke-width="1.8"/>
<path d="M792.5 232.5L789.38 236" stroke="#aaaaaa" stroke-width="1.8"/>
<path d="M789.38 236L786.25 239.5" stroke="#eae868" stroke-width="1.8"/>
</g>
<circle cx="561.25" cy="135.5" r="5.35" fill="url(#gZn)"/>
<circle cx="627" cy="132" r="5.35" fill="url(#gZn)"/>
<circle cx="693.75" cy="133" r="5.35" fill="url(#gZn)"/>
<circle cx="752" cy="139.5" r="5.35" fill="url(#gZn)"/>
<circle cx="604.25" cy="137" r="3.6" fill="url(#gS)"/>
<circle cx="669.5" cy="136.25" r="3.6" fill="url(#gS)"/>
<circle cx="731.25" cy="146.25" r="3.6" fill="url(#gS)"/>
<circle cx="562.5" cy="175.5" r="3.6" fill="url(#gS)"/>
<circle cx="627.5" cy="175" r="3.6" fill="url(#gS)"/>
<circle cx="691.25" cy="175" r="3.6" fill="url(#gS)"/>
<circle cx="753.75" cy="173.75" r="3.6" fill="url(#gS)"/>
<circle cx="607.5" cy="173" r="4.7" fill="url(#gCd)"/>
<circle cx="670.75" cy="173" r="4.7" fill="url(#gCd)"/>
<circle cx="733" cy="168" r="4.7" fill="url(#gCd)"/>
<circle cx="565.5" cy="198.25" r="5.35" fill="url(#gZn)"/>
<circle cx="628.75" cy="198.25" r="5.35" fill="url(#gZn)"/>
<circle cx="692" cy="198.25" r="5.35" fill="url(#gZn)"/>
<circle cx="755.75" cy="198.25" r="5.35" fill="url(#gZn)"/>
<circle cx="607" cy="207" r="3.6" fill="url(#gS)"/>
<circle cx="670" cy="207" r="3.6" fill="url(#gS)"/>
<circle cx="733.75" cy="207" r="3.6" fill="url(#gS)"/>
<circle cx="564.5" cy="236.25" r="3.6" fill="url(#gS)"/>
<circle cx="628" cy="236.25" r="3.6" fill="url(#gS)"/>
<circle cx="691.25" cy="236.25" r="3.6" fill="url(#gS)"/>
<circle cx="754.5" cy="236.25" r="3.6" fill="url(#gS)"/>
<circle cx="608.75" cy="228.75" r="4.7" fill="url(#gCd)"/>
<circle cx="672" cy="228.75" r="4.7" fill="url(#gCd)"/>
<circle cx="735.5" cy="228.75" r="4.7" fill="url(#gCd)"/>
<circle cx="793.75" cy="146.25" r="3.6" fill="url(#gS)"/>
<circle cx="797.5" cy="167.5" r="4.7" fill="url(#gCd)"/>
<circle cx="797" cy="207" r="3.6" fill="url(#gS)"/>
<circle cx="798" cy="228.75" r="4.7" fill="url(#gCd)"/>
<circle cx="571.25" cy="145.5" r="3.6" fill="url(#gS)"/>
<circle cx="636.25" cy="145" r="3.6" fill="url(#gS)"/>
<circle cx="700.5" cy="146.25" r="3.6" fill="url(#gS)"/>
<circle cx="763.75" cy="140.5" r="3.6" fill="url(#gS)"/>
<circle cx="590" cy="136.25" r="4.7" fill="url(#gCd)"/>
<circle cx="655.75" cy="136.25" r="4.7" fill="url(#gCd)"/>
<circle cx="719.5" cy="137" r="4.7" fill="url(#gCd)"/>
<circle cx="572" cy="168.75" r="5.35" fill="url(#gZn)"/>
<circle cx="635.5" cy="168" r="5.35" fill="url(#gZn)"/>
<circle cx="700.75" cy="169.5" r="5.35" fill="url(#gZn)"/>
<circle cx="763.75" cy="172.5" r="5.35" fill="url(#gZn)"/>
<circle cx="594.25" cy="178" r="3.6" fill="url(#gS)"/>
<circle cx="657.5" cy="177.5" r="3.6" fill="url(#gS)"/>
<circle cx="721.25" cy="178.25" r="3.6" fill="url(#gS)"/>
<circle cx="575" cy="207" r="3.6" fill="url(#gS)"/>
<circle cx="638" cy="207" r="3.6" fill="url(#gS)"/>
<circle cx="702" cy="207" r="3.6" fill="url(#gS)"/>
<circle cx="765" cy="207" r="3.6" fill="url(#gS)"/>
<circle cx="595" cy="199.5" r="4.7" fill="url(#gCd)"/>
<circle cx="658.25" cy="199.5" r="4.7" fill="url(#gCd)"/>
<circle cx="721.5" cy="199.5" r="4.7" fill="url(#gCd)"/>
<circle cx="575" cy="230.5" r="5.35" fill="url(#gZn)"/>
<circle cx="638" cy="230.5" r="5.35" fill="url(#gZn)"/>
<circle cx="701.25" cy="230.5" r="5.35" fill="url(#gZn)"/>
<circle cx="764.5" cy="231.25" r="5.35" fill="url(#gZn)"/>
<circle cx="596.25" cy="239.5" r="3.6" fill="url(#gS)"/>
<circle cx="659.5" cy="239.5" r="3.6" fill="url(#gS)"/>
<circle cx="722.5" cy="239.5" r="3.6" fill="url(#gS)"/>
<circle cx="786.25" cy="136.25" r="4.7" fill="url(#gCd)"/>
<circle cx="785.75" cy="178.25" r="3.6" fill="url(#gS)"/>
<circle cx="785" cy="199.5" r="4.7" fill="url(#gCd)"/>
<circle cx="786.25" cy="239.5" r="3.6" fill="url(#gS)"/>
<circle cx="556.25" cy="138" r="5.35" fill="url(#gZn)"/>
<circle cx="621.25" cy="135.5" r="5.35" fill="url(#gZn)"/>
<circle cx="688.75" cy="136.25" r="5.35" fill="url(#gZn)"/>
<circle cx="747" cy="142.5" r="5.35" fill="url(#gZn)"/>
<circle cx="598.75" cy="139.5" r="3.6" fill="url(#gS)"/>
<circle cx="664.25" cy="138.75" r="3.6" fill="url(#gS)"/>
<circle cx="726.25" cy="148.75" r="3.6" fill="url(#gS)"/>
<circle cx="558" cy="178" r="3.6" fill="url(#gS)"/>
<circle cx="622.5" cy="178" r="3.6" fill="url(#gS)"/>
<circle cx="686.25" cy="178" r="3.6" fill="url(#gS)"/>
<circle cx="748.75" cy="176.75" r="3.6" fill="url(#gS)"/>
<circle cx="602.5" cy="176.25" r="4.7" fill="url(#gCd)"/>
<circle cx="665" cy="176.25" r="4.7" fill="url(#gCd)"/>
<circle cx="727.5" cy="171.25" r="4.7" fill="url(#gCd)"/>
<circle cx="560" cy="201.25" r="5.35" fill="url(#gZn)"/>
<circle cx="623" cy="202" r="5.35" fill="url(#gZn)"/>
<circle cx="686.75" cy="202" r="5.35" fill="url(#gZn)"/>
<circle cx="750" cy="202" r="5.35" fill="url(#gZn)"/>
<circle cx="602" cy="210" r="3.6" fill="url(#gS)"/>
<circle cx="665" cy="210" r="3.6" fill="url(#gS)"/>
<circle cx="728.75" cy="210" r="3.6" fill="url(#gS)"/>
<circle cx="559.5" cy="239.5" r="3.6" fill="url(#gS)"/>
<circle cx="623" cy="239.5" r="3.6" fill="url(#gS)"/>
<circle cx="686.25" cy="239.5" r="3.6" fill="url(#gS)"/>
<circle cx="749.5" cy="238.75" r="3.6" fill="url(#gS)"/>
<circle cx="603.25" cy="232.5" r="4.7" fill="url(#gCd)"/>
<circle cx="666.25" cy="232.5" r="4.7" fill="url(#gCd)"/>
<circle cx="730" cy="232.5" r="4.7" fill="url(#gCd)"/>
<circle cx="788.25" cy="149.25" r="3.6" fill="url(#gS)"/>
<circle cx="791.75" cy="170.75" r="4.7" fill="url(#gCd)"/>
<circle cx="791.25" cy="210" r="3.6" fill="url(#gS)"/>
<circle cx="792.5" cy="232.5" r="4.7" fill="url(#gCd)"/>
<circle cx="857.5" cy="68" r="12" fill="url(#gS)"/>
<text x="887" y="72.9" font-family='"Liberation Serif", "DejaVu Serif", serif' font-weight="bold" font-size="16.8" fill="#000">S</text>
<circle cx="857" cy="105" r="12.5" fill="url(#gCd)"/>
<text x="887" y="110.4" font-family='"Liberation Serif", "DejaVu Serif", serif' font-weight="bold" font-size="16.8" fill="#000">Cd</text>
<circle cx="858.3" cy="140" r="12.5" fill="url(#gZn)"/>
<text x="887" y="144.4" font-family='"Liberation Serif", "DejaVu Serif", serif' font-weight="bold" font-size="16.8" fill="#000">Zn</text>
<circle cx="859.3" cy="178" r="13.7" fill="url(#gPd)"/>
<text x="887" y="183.4" font-family='"Liberation Serif", "DejaVu Serif", serif' font-weight="bold" font-size="16.8" fill="#000">Pd</text>
<circle cx="859" cy="215" r="13.9" fill="url(#gPt)"/>
<text x="887" y="220.9" font-family='"Liberation Serif", "DejaVu Serif", serif' font-weight="bold" font-size="16.8" fill="#000">Pt</text>
</g>
<g id="pd">
<rect x="62.1" y="430.2" width="28.8" height="57.8" fill="#2ec6ca" stroke="#101010" stroke-width="1.6"/>
<text x="76.5" y="450.1" font-family='"Liberation Sans", "DejaVu Sans", sans-serif' font-size="9" font-weight="normal" text-anchor="middle" fill="#0a0a14" fill-opacity="0.8">-2.5583</text>
<rect x="107.8" y="413.59" width="28.8" height="74.41" fill="#2a62aa" stroke="#101010" stroke-width="1.6"/>
<text x="122.2" y="444.1" font-family='"Liberation Sans", "DejaVu Sans", sans-serif' font-size="9" font-weight="normal" text-anchor="middle" fill="#0a0a14" fill-opacity="0.8">-1.8683</text>
<rect x="153.6" y="424.24" width="28.8" height="63.76" fill="#5a9a62" stroke="#101010" stroke-width="1.6"/>
<text x="168" y="446.5" font-family='"Liberation Sans", "DejaVu Sans", sans-serif' font-size="9" font-weight="normal" text-anchor="middle" fill="#0a0a14" fill-opacity="0.8">-2.3107</text>
<rect x="199.6" y="419.75" width="28.8" height="68.25" fill="#a06266" stroke="#101010" stroke-width="1.6"/>
<text x="214" y="445.1" font-family='"Liberation Sans", "DejaVu Sans", sans-serif' font-size="9" font-weight="normal" text-anchor="middle" fill="#0a0a14" fill-opacity="0.8">-2.1242</text>
<rect x="245.3" y="421.96" width="28.8" height="66.04" fill="#93ad2c" stroke="#101010" stroke-width="1.6"/>
<text x="259.7" y="445.1" font-family='"Liberation Sans", "DejaVu Sans", sans-serif' font-size="9" font-weight="normal" text-anchor="middle" fill="#0a0a14" fill-opacity="0.8">-2.2160</text>
<path d="M40.3 368.15H296.3" stroke="#000" stroke-width="2.1"/>
<rect x="40.3" y="296.4" width="256" height="191.6" fill="none" stroke="#000" stroke-width="1.9"/>
<path d="M40.3 295.76h4" stroke="#000" stroke-width="1.4"/>
<text x="36.2" y="298.76" font-family='"Liberation Serif", "DejaVu Serif", serif' font-size="11" font-weight="normal" text-anchor="end" fill="#000" >3</text>
<path d="M40.3 307.8h2.4" stroke="#000" stroke-width="1.4"/>
<path d="M40.3 319.84h4" stroke="#000" stroke-width="1.4"/>
<text x="36.2" y="322.84" font-family='"Liberation Serif", "DejaVu Serif", serif' font-size="11" font-weight="normal" text-anchor="end" fill="#000" >2</text>
<path d="M40.3 331.88h2.4" stroke="#000" stroke-width="1.4"/>
<path d="M40.3 343.92h4" stroke="#000" stroke-width="1.4"/>
<text x="36.2" y="346.92" font-family='"Liberation Serif", "DejaVu Serif", serif' font-size="11" font-weight="normal" text-anchor="end" fill="#000" >1</text>
<path d="M40.3 355.96h2.4" stroke="#000" stroke-width="1.4"/>
<path d="M40.3 368h4" stroke="#000" stroke-width="1.4"/>
<text x="36.2" y="371" font-family='"Liberation Serif", "DejaVu Serif", serif' font-size="11" font-weight="normal" text-anchor="end" fill="#000" >0</text>
<path d="M40.3 380.04h2.4" stroke="#000" stroke-width="1.4"/>
<path d="M40.3 392.08h4" stroke="#000" stroke-width="1.4"/>
<text x="36.2" y="395.08" font-family='"Liberation Serif", "DejaVu Serif", serif' font-size="11" font-weight="normal" text-anchor="end" fill="#000" >-1</text>
<path d="M40.3 404.12h2.4" stroke="#000" stroke-width="1.4"/>
<path d="M40.3 416.16h4" stroke="#000" stroke-width="1.4"/>
<text x="36.2" y="419.16" font-family='"Liberation Serif", "DejaVu Serif", serif' font-size="11" font-weight="normal" text-anchor="end" fill="#000" >-2</text>
<path d="M40.3 428.2h2.4" stroke="#000" stroke-width="1.4"/>
<path d="M40.3 440.24h4" stroke="#000" stroke-width="1.4"/>
<text x="36.2" y="443.24" font-family='"Liberation Serif", "DejaVu Serif", serif' font-size="11" font-weight="normal" text-anchor="end" fill="#000" >-3</text>
<path d="M40.3 452.28h2.4" stroke="#000" stroke-width="1.4"/>
<path d="M40.3 464.32h4" stroke="#000" stroke-width="1.4"/>
<text x="36.2" y="467.32" font-family='"Liberation Serif", "DejaVu Serif", serif' font-size="11" font-weight="normal" text-anchor="end" fill="#000" >-4</text>
<path d="M40.3 476.36h2.4" stroke="#000" stroke-width="1.4"/>
<path d="M40.3 488.4h4" stroke="#000" stroke-width="1.4"/>
<text x="36.2" y="491.4" font-family='"Liberation Serif", "DejaVu Serif", serif' font-size="11" font-weight="normal" text-anchor="end" fill="#000" >-5</text>
<text x="46.3" y="319.8" font-family='"Liberation Serif", "DejaVu Serif", serif' font-size="22" font-weight="normal" text-anchor="start" fill="#000" >(d)</text>
<text x="105" y="362.4" font-family='"Liberation Serif", "DejaVu Serif", serif' font-size="10" font-weight="normal" text-anchor="start" fill="#000" >Fermi Level</text>
<text transform="translate(19.6,402.5) rotate(-90)" font-family='"Liberation Serif", "DejaVu Serif", serif' font-size="16.1" text-anchor="middle" fill="#000">d band center</text>
<rect x="225" y="297.9" width="21.4" height="10.6" rx="1" fill="#2ec6ca" stroke="#080808" stroke-width="1.55"/>
<text x="249.7" y="307.1" font-family='"Liberation Serif", "DejaVu Serif", serif' font-size="9.8" font-weight="normal" text-anchor="start" fill="#000" >Pt</text>
<rect x="225" y="310.15" width="21.4" height="10.6" rx="1" fill="#2a62aa" stroke="#080808" stroke-width="1.55"/>
<text x="249.7" y="319.35" font-family='"Liberation Serif", "DejaVu Serif", serif' font-size="9.8" font-weight="normal" text-anchor="start" fill="#000" >Pd</text>
<rect x="225" y="322.4" width="21.4" height="10.6" rx="1" fill="#5a9a62" stroke="#080808" stroke-width="1.55"/>
<text x="249.7" y="331.6" font-family='"Liberation Serif", "DejaVu Serif", serif' font-size="9.8" font-weight="normal" text-anchor="start" fill="#000" >PtPd-Pt</text>
<rect x="225" y="334.65" width="21.4" height="10.6" rx="1" fill="#a06266" stroke="#080808" stroke-width="1.55"/>
<text x="249.7" y="343.85" font-family='"Liberation Serif", "DejaVu Serif", serif' font-size="9.8" font-weight="normal" text-anchor="start" fill="#000" >PtPd-Pd</text>
<rect x="225" y="346.9" width="21.4" height="10.6" rx="1" fill="#93ad2c" stroke="#080808" stroke-width="1.55"/>
<text x="249.7" y="356.1" font-family='"Liberation Serif", "DejaVu Serif", serif' font-size="9.8" font-weight="normal" text-anchor="start" fill="#000" >PtPd-total</text>
<circle cx="68.1" cy="403.1" r="3.1" fill="url(#gmg)"/>
<circle cx="64.75" cy="404.75" r="3.1" fill="url(#gmg)"/>
<circle cx="89.6" cy="403.25" r="3.1" fill="url(#gmg)"/>
<circle cx="85.9" cy="405" r="3.1" fill="url(#gmg)"/>
<circle cx="78.75" cy="413.25" r="3.1" fill="url(#gmg)"/>
<circle cx="75" cy="414.75" r="3.1" fill="url(#gmg)"/>
<circle cx="68.1" cy="423.25" r="3.1" fill="url(#gmg)"/>
<circle cx="64.75" cy="424.75" r="3.1" fill="url(#gmg)"/>
<circle cx="89.6" cy="423.25" r="3.1" fill="url(#gmg)"/>
<circle cx="85.9" cy="424.75" r="3.1" fill="url(#gmg)"/>
<circle cx="77.25" cy="404.1" r="2.95" fill="url(#gmg)"/>
<circle cx="66.6" cy="414.1" r="2.95" fill="url(#gmg)"/>
<circle cx="87.9" cy="413.9" r="2.95" fill="url(#gmg)"/>
<circle cx="77.25" cy="424.1" r="2.95" fill="url(#gmg)"/>
<circle cx="111.9" cy="383.9" r="3.05" fill="url(#gmb)"/>
<circle cx="109.4" cy="385.4" r="3.05" fill="url(#gmb)"/>
<circle cx="133.1" cy="383.9" r="3.05" fill="url(#gmb)"/>
<circle cx="130.4" cy="385.4" r="3.05" fill="url(#gmb)"/>
<circle cx="122.25" cy="393.9" r="3.05" fill="url(#gmb)"/>
<circle cx="119.75" cy="395.4" r="3.05" fill="url(#gmb)"/>
<circle cx="111.9" cy="404.1" r="3.05" fill="url(#gmb)"/>
<circle cx="109.4" cy="405.75" r="3.05" fill="url(#gmb)"/>
<circle cx="133.1" cy="404.1" r="3.05" fill="url(#gmb)"/>
<circle cx="130.4" cy="405.75" r="3.05" fill="url(#gmb)"/>
<circle cx="121" cy="384.75" r="2.9" fill="url(#gmb)"/>
<circle cx="110.6" cy="394.75" r="2.9" fill="url(#gmb)"/>
<circle cx="131.5" cy="394.75" r="2.9" fill="url(#gmb)"/>
<circle cx="121" cy="405" r="2.9" fill="url(#gmb)"/>
<circle cx="178.1" cy="375.75" r="3.5" fill="url(#gmb)"/>
<circle cx="175.6" cy="378.6" r="3.5" fill="url(#gmb)"/>
<circle cx="203.1" cy="375.75" r="3.5" fill="url(#gmb)"/>
<circle cx="200.25" cy="378.6" r="3.5" fill="url(#gmb)"/>
<circle cx="190" cy="388" r="3.5" fill="url(#gmg)"/>
<circle cx="187.5" cy="390.5" r="3.5" fill="url(#gmg)"/>
<circle cx="178.1" cy="399.9" r="3.5" fill="url(#gmb)"/>
<circle cx="175.6" cy="403" r="3.5" fill="url(#gmb)"/>
<circle cx="203.1" cy="399.9" r="3.5" fill="url(#gmb)"/>
<circle cx="200.25" cy="403" r="3.5" fill="url(#gmb)"/>
<circle cx="188.75" cy="377.4" r="3.35" fill="url(#gmg)"/>
<circle cx="176.5" cy="389.5" r="3.35" fill="url(#gmb)"/>
<circle cx="201.25" cy="389.5" r="3.35" fill="url(#gmb)"/>
<circle cx="189" cy="401.75" r="3.35" fill="url(#gmg)"/>
<circle cx="249.75" cy="385.75" r="3.6" fill="url(#gmb)"/>
<circle cx="246.9" cy="388.6" r="3.6" fill="url(#gmb)"/>
<circle cx="275" cy="385.75" r="3.6" fill="url(#gmb)"/>
<circle cx="272.1" cy="388.6" r="3.6" fill="url(#gmb)"/>
<circle cx="262.5" cy="398" r="3.6" fill="url(#gmg)"/>
<circle cx="259.6" cy="400.75" r="3.6" fill="url(#gmg)"/>
<circle cx="249.75" cy="410.5" r="3.6" fill="url(#gmb)"/>
<circle cx="246.9" cy="413.6" r="3.6" fill="url(#gmb)"/>
<circle cx="275" cy="410.5" r="3.6" fill="url(#gmb)"/>
<circle cx="272.1" cy="413.6" r="3.6" fill="url(#gmb)"/>
<circle cx="260.6" cy="387.6" r="3.45" fill="url(#gmg)"/>
<circle cx="248.4" cy="399.9" r="3.45" fill="url(#gmb)"/>
<circle cx="273.75" cy="399.9" r="3.45" fill="url(#gmb)"/>
<circle cx="260.6" cy="412.6" r="3.45" fill="url(#gmg)"/>
<circle cx="165" cy="418" r="3.75" fill="url(#gmg)"/>
<circle cx="214.4" cy="414" r="4" fill="url(#gmb)"/>
<path d="M170.6 389.5C166 395 164 402 164.5 410.6" fill="none" stroke="#111" stroke-width="1.4" marker-end="url(#ah)"/>
<path d="M207.25 387C213.5 390 217 397 217.2 407.4" fill="none" stroke="#111" stroke-width="1.4" marker-end="url(#ah)"/>
</g>
<g id="pe">
<rect x="377.2" y="417.69" width="37.5" height="64.31" fill="#fb0d0d" stroke="#101010" stroke-width="1.6"/>
<text x="395.95" y="437.8" font-family='"Liberation Sans", "DejaVu Sans", sans-serif' font-size="9" font-weight="normal" text-anchor="middle" fill="#0a0a14" fill-opacity="0.8">-2.26324</text>
<rect x="433.5" y="404.51" width="37.6" height="77.49" fill="#10fbfa" stroke="#101010" stroke-width="1.6"/>
<text x="452.3" y="427.8" font-family='"Liberation Sans", "DejaVu Sans", sans-serif' font-size="9" font-weight="normal" text-anchor="middle" fill="#0a0a14" fill-opacity="0.8">-1.7117</text>
<rect x="490" y="413.87" width="37.9" height="68.13" fill="#8080f6" stroke="#101010" stroke-width="1.6"/>
<text x="508.95" y="432.8" font-family='"Liberation Sans", "DejaVu Sans", sans-serif' font-size="9" font-weight="normal" text-anchor="middle" fill="#0a0a14" fill-opacity="0.8">-2.10319</text>
<rect x="546.5" y="409.17" width="37.8" height="72.83" fill="#fa8410" stroke="#101010" stroke-width="1.6"/>
<text x="565.4" y="431.1" font-family='"Liberation Sans", "DejaVu Sans", sans-serif' font-size="9" font-weight="normal" text-anchor="middle" fill="#0a0a14" fill-opacity="0.8">-1.90652</text>
<path d="M351.9 363.15H610" stroke="#000" stroke-width="2.1"/>
<rect x="351.9" y="291.7" width="258.1" height="190.3" fill="none" stroke="#000" stroke-width="1.9"/>
<path d="M351.9 291.3h4" stroke="#000" stroke-width="1.4"/>
<text x="347.8" y="294.5" font-family='"Liberation Serif", "DejaVu Serif", serif' font-size="11" font-weight="normal" text-anchor="end" fill="#000" >3</text>
<path d="M351.9 303.25h2.4" stroke="#000" stroke-width="1.4"/>
<path d="M351.9 315.2h4" stroke="#000" stroke-width="1.4"/>
<text x="347.8" y="318.4" font-family='"Liberation Serif", "DejaVu Serif", serif' font-size="11" font-weight="normal" text-anchor="end" fill="#000" >2</text>
<path d="M351.9 327.15h2.4" stroke="#000" stroke-width="1.4"/>
<path d="M351.9 339.1h4" stroke="#000" stroke-width="1.4"/>
<text x="347.8" y="342.3" font-family='"Liberation Serif", "DejaVu Serif", serif' font-size="11" font-weight="normal" text-anchor="end" fill="#000" >1</text>
<path d="M351.9 351.05h2.4" stroke="#000" stroke-width="1.4"/>
<path d="M351.9 363h4" stroke="#000" stroke-width="1.4"/>
<text x="347.8" y="366.2" font-family='"Liberation Serif", "DejaVu Serif", serif' font-size="11" font-weight="normal" text-anchor="end" fill="#000" >0</text>
<path d="M351.9 374.95h2.4" stroke="#000" stroke-width="1.4"/>
<path d="M351.9 386.9h4" stroke="#000" stroke-width="1.4"/>
<text x="347.8" y="390.1" font-family='"Liberation Serif", "DejaVu Serif", serif' font-size="11" font-weight="normal" text-anchor="end" fill="#000" >-1</text>
<path d="M351.9 398.85h2.4" stroke="#000" stroke-width="1.4"/>
<path d="M351.9 410.8h4" stroke="#000" stroke-width="1.4"/>
<text x="347.8" y="414" font-family='"Liberation Serif", "DejaVu Serif", serif' font-size="11" font-weight="normal" text-anchor="end" fill="#000" >-2</text>
<path d="M351.9 422.75h2.4" stroke="#000" stroke-width="1.4"/>
<path d="M351.9 434.7h4" stroke="#000" stroke-width="1.4"/>
<text x="347.8" y="437.9" font-family='"Liberation Serif", "DejaVu Serif", serif' font-size="11" font-weight="normal" text-anchor="end" fill="#000" >-3</text>
<path d="M351.9 446.65h2.4" stroke="#000" stroke-width="1.4"/>
<path d="M351.9 458.6h4" stroke="#000" stroke-width="1.4"/>
<text x="347.8" y="461.8" font-family='"Liberation Serif", "DejaVu Serif", serif' font-size="11" font-weight="normal" text-anchor="end" fill="#000" >-4</text>
<path d="M351.9 470.55h2.4" stroke="#000" stroke-width="1.4"/>
<path d="M351.9 482.5h4" stroke="#000" stroke-width="1.4"/>
<text x="347.8" y="485.7" font-family='"Liberation Serif", "DejaVu Serif", serif' font-size="11" font-weight="normal" text-anchor="end" fill="#000" >-5</text>
<text x="358.8" y="315" font-family='"Liberation Serif", "DejaVu Serif", serif' font-size="21.6" font-weight="normal" text-anchor="start" fill="#000" >(e)</text>
<text x="400.6" y="356.5" font-family='"Liberation Serif", "DejaVu Serif", serif' font-size="10.2" font-weight="normal" text-anchor="start" fill="#000" >Fermi Level</text>
<text transform="translate(330.2,396.6) rotate(-90)" font-family='"Liberation Serif", "DejaVu Serif", serif' font-size="16.1" text-anchor="middle" fill="#000">d band center</text>
<rect x="517.9" y="296.6" width="21.2" height="9.6" rx="1" fill="#fb0d0d" stroke="#080808" stroke-width="1.6"/>
<text x="542.9" y="304.9" font-family='"Liberation Serif", "DejaVu Serif", serif' font-size="9.7" font-weight="normal" text-anchor="start" fill="#000" stroke="#000" stroke-width="0.28">Pt/ZCS-Pt</text>
<rect x="517.9" y="308.9" width="21.2" height="9.6" rx="1" fill="#10fbfa" stroke="#080808" stroke-width="1.6"/>
<text x="542.9" y="317.2" font-family='"Liberation Serif", "DejaVu Serif", serif' font-size="9.7" font-weight="normal" text-anchor="start" fill="#000" stroke="#000" stroke-width="0.28">Pd/ZCS-Pd</text>
<rect x="517.9" y="321.2" width="21.2" height="9.6" rx="1" fill="#8080f6" stroke="#080808" stroke-width="1.6"/>
<text x="542.9" y="329.5" font-family='"Liberation Serif", "DejaVu Serif", serif' font-size="9.7" font-weight="normal" text-anchor="start" fill="#000" stroke="#000" stroke-width="0.28">PtPd/ZCS-Pt</text>
<rect x="517.9" y="333.5" width="21.2" height="9.6" rx="1" fill="#fa8410" stroke="#080808" stroke-width="1.6"/>
<text x="542.9" y="341.8" font-family='"Liberation Serif", "DejaVu Serif", serif' font-size="9.7" font-weight="normal" text-anchor="start" fill="#000" stroke="#000" stroke-width="0.28">PtPd/ZCS-Pd</text>
<rect x="377.6" y="383.4" width="34.2" height="10.08" fill="#8890a0" opacity="0.13"/>
<rect x="377.6" y="393.48" width="34.2" height="17.92" fill="#f8dccc" opacity="0.42"/>
<path d="M377.6 384.66h34.2M377.6 387.18h34.2M377.6 389.7h34.2M377.6 392.22h34.2M378.92 383.4v10.08M381.55 383.4v10.08M384.18 383.4v10.08M386.81 383.4v10.08M389.44 383.4v10.08M392.07 383.4v10.08M394.7 383.4v10.08M397.33 383.4v10.08M399.96 383.4v10.08M402.59 383.4v10.08M405.22 383.4v10.08M407.85 383.4v10.08M410.48 383.4v10.08" stroke="#8890a0" stroke-width="0.45" opacity="0.55" fill="none"/>
<circle cx="378.92" cy="384.66" r="0.8" fill="#a0a4ac" opacity="0.8"/>
<circle cx="381.55" cy="384.66" r="0.8" fill="#b4b4b4" opacity="0.8"/>
<circle cx="384.18" cy="384.66" r="0.8" fill="#a0a4ac" opacity="0.8"/>
<circle cx="386.81" cy="384.66" r="0.8" fill="#b4b4b4" opacity="0.8"/>
<circle cx="389.44" cy="384.66" r="0.8" fill="#a0a4ac" opacity="0.8"/>
<circle cx="392.07" cy="384.66" r="0.8" fill="#b4b4b4" opacity="0.8"/>
<circle cx="394.7" cy="384.66" r="0.8" fill="#a0a4ac" opacity="0.8"/>
<circle cx="397.33" cy="384.66" r="0.8" fill="#b4b4b4" opacity="0.8"/>
<circle cx="399.96" cy="384.66" r="0.8" fill="#a0a4ac" opacity="0.8"/>
<circle cx="402.59" cy="384.66" r="0.8" fill="#b4b4b4" opacity="0.8"/>
<circle cx="405.22" cy="384.66" r="0.8" fill="#a0a4ac" opacity="0.8"/>
<circle cx="407.85" cy="384.66" r="0.8" fill="#b4b4b4" opacity="0.8"/>
<circle cx="410.48" cy="384.66" r="0.8" fill="#a0a4ac" opacity="0.8"/>
<circle cx="378.92" cy="387.18" r="0.8" fill="#b4b4b4" opacity="0.8"/>
<circle cx="381.55" cy="387.18" r="0.8" fill="#a0a4ac" opacity="0.8"/>
<circle cx="384.18" cy="387.18" r="0.8" fill="#b4b4b4" opacity="0.8"/>
<circle cx="386.81" cy="387.18" r="0.8" fill="#a0a4ac" opacity="0.8"/>
<circle cx="389.44" cy="387.18" r="0.8" fill="#b4b4b4" opacity="0.8"/>
<circle cx="392.07" cy="387.18" r="0.8" fill="#a0a4ac" opacity="0.8"/>
<circle cx="394.7" cy="387.18" r="0.8" fill="#b4b4b4" opacity="0.8"/>
<circle cx="397.33" cy="387.18" r="0.8" fill="#a0a4ac" opacity="0.8"/>
<circle cx="399.96" cy="387.18" r="0.8" fill="#b4b4b4" opacity="0.8"/>
<circle cx="402.59" cy="387.18" r="0.8" fill="#a0a4ac" opacity="0.8"/>
<circle cx="405.22" cy="387.18" r="0.8" fill="#b4b4b4" opacity="0.8"/>
<circle cx="407.85" cy="387.18" r="0.8" fill="#a0a4ac" opacity="0.8"/>
<circle cx="410.48" cy="387.18" r="0.8" fill="#b4b4b4" opacity="0.8"/>
<circle cx="378.92" cy="389.7" r="0.8" fill="#a0a4ac" opacity="0.8"/>
<circle cx="381.55" cy="389.7" r="0.8" fill="#b4b4b4" opacity="0.8"/>
<circle cx="384.18" cy="389.7" r="0.8" fill="#a0a4ac" opacity="0.8"/>
<circle cx="386.81" cy="389.7" r="0.8" fill="#b4b4b4" opacity="0.8"/>
<circle cx="389.44" cy="389.7" r="0.8" fill="#a0a4ac" opacity="0.8"/>
<circle cx="392.07" cy="389.7" r="0.8" fill="#b4b4b4" opacity="0.8"/>
<circle cx="394.7" cy="389.7" r="0.8" fill="#a0a4ac" opacity="0.8"/>
<circle cx="397.33" cy="389.7" r="0.8" fill="#b4b4b4" opacity="0.8"/>
<circle cx="399.96" cy="389.7" r="0.8" fill="#a0a4ac" opacity="0.8"/>
<circle cx="402.59" cy="389.7" r="0.8" fill="#b4b4b4" opacity="0.8"/>
<circle cx="405.22" cy="389.7" r="0.8" fill="#a0a4ac" opacity="0.8"/>
<circle cx="407.85" cy="389.7" r="0.8" fill="#b4b4b4" opacity="0.8"/>
<circle cx="410.48" cy="389.7" r="0.8" fill="#a0a4ac" opacity="0.8"/>
<circle cx="378.92" cy="392.22" r="0.8" fill="#b4b4b4" opacity="0.8"/>
<circle cx="381.55" cy="392.22" r="0.8" fill="#a0a4ac" opacity="0.8"/>
<circle cx="384.18" cy="392.22" r="0.8" fill="#b4b4b4" opacity="0.8"/>
<circle cx="386.81" cy="392.22" r="0.8" fill="#a0a4ac" opacity="0.8"/>
<circle cx="389.44" cy="392.22" r="0.8" fill="#b4b4b4" opacity="0.8"/>
<circle cx="392.07" cy="392.22" r="0.8" fill="#a0a4ac" opacity="0.8"/>
<circle cx="394.7" cy="392.22" r="0.8" fill="#b4b4b4" opacity="0.8"/>
<circle cx="397.33" cy="392.22" r="0.8" fill="#a0a4ac" opacity="0.8"/>
<circle cx="399.96" cy="392.22" r="0.8" fill="#b4b4b4" opacity="0.8"/>
<circle cx="402.59" cy="392.22" r="0.8" fill="#a0a4ac" opacity="0.8"/>
<circle cx="405.22" cy="392.22" r="0.8" fill="#b4b4b4" opacity="0.8"/>
<circle cx="407.85" cy="392.22" r="0.8" fill="#a0a4ac" opacity="0.8"/>
<circle cx="410.48" cy="392.22" r="0.8" fill="#b4b4b4" opacity="0.8"/>
<circle cx="379.74" cy="396.17" r="1.1" fill="#b4508c" opacity="0.62"/>
<circle cx="381.74" cy="397.07" r="0.8" fill="#d0ac30" opacity="0.6"/>
<circle cx="384.01" cy="396.17" r="1.1" fill="#8c7c84" opacity="0.62"/>
<circle cx="386.01" cy="397.07" r="0.8" fill="#d0ac30" opacity="0.6"/>
<circle cx="388.29" cy="396.17" r="1.1" fill="#b4508c" opacity="0.62"/>
<circle cx="390.29" cy="397.07" r="0.8" fill="#d0ac30" opacity="0.6"/>
<circle cx="392.56" cy="396.17" r="1.1" fill="#8c7c84" opacity="0.62"/>
<circle cx="394.56" cy="397.07" r="0.8" fill="#d0ac30" opacity="0.6"/>
<circle cx="396.84" cy="396.17" r="1.1" fill="#b4508c" opacity="0.62"/>
<circle cx="398.84" cy="397.07" r="0.8" fill="#d0ac30" opacity="0.6"/>
<circle cx="401.11" cy="396.17" r="1.1" fill="#8c7c84" opacity="0.62"/>
<circle cx="403.11" cy="397.07" r="0.8" fill="#d0ac30" opacity="0.6"/>
<circle cx="405.39" cy="396.17" r="1.1" fill="#b4508c" opacity="0.62"/>
<circle cx="407.39" cy="397.07" r="0.8" fill="#d0ac30" opacity="0.6"/>
<circle cx="409.66" cy="396.17" r="1.1" fill="#8c7c84" opacity="0.62"/>
<circle cx="411.66" cy="397.07" r="0.8" fill="#d0ac30" opacity="0.6"/>
<circle cx="379.74" cy="400.65" r="1.1" fill="#8c7c84" opacity="0.62"/>
<circle cx="381.74" cy="401.55" r="0.8" fill="#d0ac30" opacity="0.6"/>
<circle cx="384.01" cy="400.65" r="1.1" fill="#b4508c" opacity="0.62"/>
<circle cx="386.01" cy="401.55" r="0.8" fill="#d0ac30" opacity="0.6"/>
<circle cx="388.29" cy="400.65" r="1.1" fill="#8c7c84" opacity="0.62"/>
<circle cx="390.29" cy="401.55" r="0.8" fill="#d0ac30" opacity="0.6"/>
<circle cx="392.56" cy="400.65" r="1.1" fill="#b4508c" opacity="0.62"/>
<circle cx="394.56" cy="401.55" r="0.8" fill="#d0ac30" opacity="0.6"/>
<circle cx="396.84" cy="400.65" r="1.1" fill="#8c7c84" opacity="0.62"/>
<circle cx="398.84" cy="401.55" r="0.8" fill="#d0ac30" opacity="0.6"/>
<circle cx="401.11" cy="400.65" r="1.1" fill="#b4508c" opacity="0.62"/>
<circle cx="403.11" cy="401.55" r="0.8" fill="#d0ac30" opacity="0.6"/>
<circle cx="405.39" cy="400.65" r="1.1" fill="#8c7c84" opacity="0.62"/>
<circle cx="407.39" cy="401.55" r="0.8" fill="#d0ac30" opacity="0.6"/>
<circle cx="409.66" cy="400.65" r="1.1" fill="#b4508c" opacity="0.62"/>
<circle cx="411.66" cy="401.55" r="0.8" fill="#d0ac30" opacity="0.6"/>
<circle cx="379.74" cy="405.13" r="1.1" fill="#b4508c" opacity="0.62"/>
<circle cx="381.74" cy="406.03" r="0.8" fill="#d0ac30" opacity="0.6"/>
<circle cx="384.01" cy="405.13" r="1.1" fill="#8c7c84" opacity="0.62"/>
<circle cx="386.01" cy="406.03" r="0.8" fill="#d0ac30" opacity="0.6"/>
<circle cx="388.29" cy="405.13" r="1.1" fill="#b4508c" opacity="0.62"/>
<circle cx="390.29" cy="406.03" r="0.8" fill="#d0ac30" opacity="0.6"/>
<circle cx="392.56" cy="405.13" r="1.1" fill="#8c7c84" opacity="0.62"/>
<circle cx="394.56" cy="406.03" r="0.8" fill="#d0ac30" opacity="0.6"/>
<circle cx="396.84" cy="405.13" r="1.1" fill="#b4508c" opacity="0.62"/>
<circle cx="398.84" cy="406.03" r="0.8" fill="#d0ac30" opacity="0.6"/>
<circle cx="401.11" cy="405.13" r="1.1" fill="#8c7c84" opacity="0.62"/>
<circle cx="403.11" cy="406.03" r="0.8" fill="#d0ac30" opacity="0.6"/>
<circle cx="405.39" cy="405.13" r="1.1" fill="#b4508c" opacity="0.62"/>
<circle cx="407.39" cy="406.03" r="0.8" fill="#d0ac30" opacity="0.6"/>
<circle cx="409.66" cy="405.13" r="1.1" fill="#8c7c84" opacity="0.62"/>
<circle cx="411.66" cy="406.03" r="0.8" fill="#d0ac30" opacity="0.6"/>
<circle cx="379.74" cy="409.61" r="1.1" fill="#8c7c84" opacity="0.62"/>
<circle cx="381.74" cy="410.51" r="0.8" fill="#d0ac30" opacity="0.6"/>
<circle cx="384.01" cy="409.61" r="1.1" fill="#b4508c" opacity="0.62"/>
<circle cx="386.01" cy="410.51" r="0.8" fill="#d0ac30" opacity="0.6"/>
<circle cx="388.29" cy="409.61" r="1.1" fill="#8c7c84" opacity="0.62"/>
<circle cx="390.29" cy="410.51" r="0.8" fill="#d0ac30" opacity="0.6"/>
<circle cx="392.56" cy="409.61" r="1.1" fill="#b4508c" opacity="0.62"/>
<circle cx="394.56" cy="410.51" r="0.8" fill="#d0ac30" opacity="0.6"/>
<circle cx="396.84" cy="409.61" r="1.1" fill="#8c7c84" opacity="0.62"/>
<circle cx="398.84" cy="410.51" r="0.8" fill="#d0ac30" opacity="0.6"/>
<circle cx="401.11" cy="409.61" r="1.1" fill="#b4508c" opacity="0.62"/>
<circle cx="403.11" cy="410.51" r="0.8" fill="#d0ac30" opacity="0.6"/>
<circle cx="405.39" cy="409.61" r="1.1" fill="#8c7c84" opacity="0.62"/>
<circle cx="407.39" cy="410.51" r="0.8" fill="#d0ac30" opacity="0.6"/>
<circle cx="409.66" cy="409.61" r="1.1" fill="#b4508c" opacity="0.62"/>
<circle cx="411.66" cy="410.51" r="0.8" fill="#d0ac30" opacity="0.6"/>
<rect x="433.8" y="372.8" width="35.5" height="10.76" fill="#3c88d8" opacity="0.13"/>
<rect x="433.8" y="383.56" width="35.5" height="16.84" fill="#f8dccc" opacity="0.42"/>
<path d="M433.8 374.15h35.5M433.8 376.84h35.5M433.8 379.53h35.5M433.8 382.22h35.5M435.17 372.8v10.76M437.9 372.8v10.76M440.63 372.8v10.76M443.36 372.8v10.76M446.09 372.8v10.76M448.82 372.8v10.76M451.55 372.8v10.76M454.28 372.8v10.76M457.01 372.8v10.76M459.74 372.8v10.76M462.47 372.8v10.76M465.2 372.8v10.76M467.93 372.8v10.76" stroke="#3c88d8" stroke-width="0.45" opacity="0.55" fill="none"/>
<circle cx="435.17" cy="374.15" r="0.8" fill="#3080d8" opacity="0.8"/>
<circle cx="437.9" cy="374.15" r="0.8" fill="#4c98e0" opacity="0.8"/>
<circle cx="440.63" cy="374.15" r="0.8" fill="#3080d8" opacity="0.8"/>
<circle cx="443.36" cy="374.15" r="0.8" fill="#4c98e0" opacity="0.8"/>
<circle cx="446.09" cy="374.15" r="0.8" fill="#3080d8" opacity="0.8"/>
<circle cx="448.82" cy="374.15" r="0.8" fill="#4c98e0" opacity="0.8"/>
<circle cx="451.55" cy="374.15" r="0.8" fill="#3080d8" opacity="0.8"/>
<circle cx="454.28" cy="374.15" r="0.8" fill="#4c98e0" opacity="0.8"/>
<circle cx="457.01" cy="374.15" r="0.8" fill="#3080d8" opacity="0.8"/>
<circle cx="459.74" cy="374.15" r="0.8" fill="#4c98e0" opacity="0.8"/>
<circle cx="462.47" cy="374.15" r="0.8" fill="#3080d8" opacity="0.8"/>
<circle cx="465.2" cy="374.15" r="0.8" fill="#4c98e0" opacity="0.8"/>
<circle cx="467.93" cy="374.15" r="0.8" fill="#3080d8" opacity="0.8"/>
<circle cx="435.17" cy="376.84" r="0.8" fill="#4c98e0" opacity="0.8"/>
<circle cx="437.9" cy="376.84" r="0.8" fill="#3080d8" opacity="0.8"/>
<circle cx="440.63" cy="376.84" r="0.8" fill="#4c98e0" opacity="0.8"/>
<circle cx="443.36" cy="376.84" r="0.8" fill="#3080d8" opacity="0.8"/>
<circle cx="446.09" cy="376.84" r="0.8" fill="#4c98e0" opacity="0.8"/>
<circle cx="448.82" cy="376.84" r="0.8" fill="#3080d8" opacity="0.8"/>
<circle cx="451.55" cy="376.84" r="0.8" fill="#4c98e0" opacity="0.8"/>
<circle cx="454.28" cy="376.84" r="0.8" fill="#3080d8" opacity="0.8"/>
<circle cx="457.01" cy="376.84" r="0.8" fill="#4c98e0" opacity="0.8"/>
<circle cx="459.74" cy="376.84" r="0.8" fill="#3080d8" opacity="0.8"/>
<circle cx="462.47" cy="376.84" r="0.8" fill="#4c98e0" opacity="0.8"/>
<circle cx="465.2" cy="376.84" r="0.8" fill="#3080d8" opacity="0.8"/>
<circle cx="467.93" cy="376.84" r="0.8" fill="#4c98e0" opacity="0.8"/>
<circle cx="435.17" cy="379.53" r="0.8" fill="#3080d8" opacity="0.8"/>
<circle cx="437.9" cy="379.53" r="0.8" fill="#4c98e0" opacity="0.8"/>
<circle cx="440.63" cy="379.53" r="0.8" fill="#3080d8" opacity="0.8"/>
<circle cx="443.36" cy="379.53" r="0.8" fill="#4c98e0" opacity="0.8"/>
<circle cx="446.09" cy="379.53" r="0.8" fill="#3080d8" opacity="0.8"/>
<circle cx="448.82" cy="379.53" r="0.8" fill="#4c98e0" opacity="0.8"/>
<circle cx="451.55" cy="379.53" r="0.8" fill="#3080d8" opacity="0.8"/>
<circle cx="454.28" cy="379.53" r="0.8" fill="#4c98e0" opacity="0.8"/>
<circle cx="457.01" cy="379.53" r="0.8" fill="#3080d8" opacity="0.8"/>
<circle cx="459.74" cy="379.53" r="0.8" fill="#4c98e0" opacity="0.8"/>
<circle cx="462.47" cy="379.53" r="0.8" fill="#3080d8" opacity="0.8"/>
<circle cx="465.2" cy="379.53" r="0.8" fill="#4c98e0" opacity="0.8"/>
<circle cx="467.93" cy="379.53" r="0.8" fill="#3080d8" opacity="0.8"/>
<circle cx="435.17" cy="382.22" r="0.8" fill="#4c98e0" opacity="0.8"/>
<circle cx="437.9" cy="382.22" r="0.8" fill="#3080d8" opacity="0.8"/>
<circle cx="440.63" cy="382.22" r="0.8" fill="#4c98e0" opacity="0.8"/>
<circle cx="443.36" cy="382.22" r="0.8" fill="#3080d8" opacity="0.8"/>
<circle cx="446.09" cy="382.22" r="0.8" fill="#4c98e0" opacity="0.8"/>
<circle cx="448.82" cy="382.22" r="0.8" fill="#3080d8" opacity="0.8"/>
<circle cx="451.55" cy="382.22" r="0.8" fill="#4c98e0" opacity="0.8"/>
<circle cx="454.28" cy="382.22" r="0.8" fill="#3080d8" opacity="0.8"/>
<circle cx="457.01" cy="382.22" r="0.8" fill="#4c98e0" opacity="0.8"/>
<circle cx="459.74" cy="382.22" r="0.8" fill="#3080d8" opacity="0.8"/>
<circle cx="462.47" cy="382.22" r="0.8" fill="#4c98e0" opacity="0.8"/>
<circle cx="465.2" cy="382.22" r="0.8" fill="#3080d8" opacity="0.8"/>
<circle cx="467.93" cy="382.22" r="0.8" fill="#4c98e0" opacity="0.8"/>
<circle cx="436.02" cy="386.09" r="1.1" fill="#b4508c" opacity="0.62"/>
<circle cx="438.02" cy="386.99" r="0.8" fill="#d0ac30" opacity="0.6"/>
<circle cx="440.46" cy="386.09" r="1.1" fill="#8c7c84" opacity="0.62"/>
<circle cx="442.46" cy="386.99" r="0.8" fill="#d0ac30" opacity="0.6"/>
<circle cx="444.89" cy="386.09" r="1.1" fill="#b4508c" opacity="0.62"/>
<circle cx="446.89" cy="386.99" r="0.8" fill="#d0ac30" opacity="0.6"/>
<circle cx="449.33" cy="386.09" r="1.1" fill="#8c7c84" opacity="0.62"/>
<circle cx="451.33" cy="386.99" r="0.8" fill="#d0ac30" opacity="0.6"/>
<circle cx="453.77" cy="386.09" r="1.1" fill="#b4508c" opacity="0.62"/>
<circle cx="455.77" cy="386.99" r="0.8" fill="#d0ac30" opacity="0.6"/>
<circle cx="458.21" cy="386.09" r="1.1" fill="#8c7c84" opacity="0.62"/>
<circle cx="460.21" cy="386.99" r="0.8" fill="#d0ac30" opacity="0.6"/>
<circle cx="462.64" cy="386.09" r="1.1" fill="#b4508c" opacity="0.62"/>
<circle cx="464.64" cy="386.99" r="0.8" fill="#d0ac30" opacity="0.6"/>
<circle cx="467.08" cy="386.09" r="1.1" fill="#8c7c84" opacity="0.62"/>
<circle cx="469.08" cy="386.99" r="0.8" fill="#d0ac30" opacity="0.6"/>
<circle cx="436.02" cy="390.3" r="1.1" fill="#8c7c84" opacity="0.62"/>
<circle cx="438.02" cy="391.2" r="0.8" fill="#d0ac30" opacity="0.6"/>
<circle cx="440.46" cy="390.3" r="1.1" fill="#b4508c" opacity="0.62"/>
<circle cx="442.46" cy="391.2" r="0.8" fill="#d0ac30" opacity="0.6"/>
<circle cx="444.89" cy="390.3" r="1.1" fill="#8c7c84" opacity="0.62"/>
<circle cx="446.89" cy="391.2" r="0.8" fill="#d0ac30" opacity="0.6"/>
<circle cx="449.33" cy="390.3" r="1.1" fill="#b4508c" opacity="0.62"/>
<circle cx="451.33" cy="391.2" r="0.8" fill="#d0ac30" opacity="0.6"/>
<circle cx="453.77" cy="390.3" r="1.1" fill="#8c7c84" opacity="0.62"/>
<circle cx="455.77" cy="391.2" r="0.8" fill="#d0ac30" opacity="0.6"/>
<circle cx="458.21" cy="390.3" r="1.1" fill="#b4508c" opacity="0.62"/>
<circle cx="460.21" cy="391.2" r="0.8" fill="#d0ac30" opacity="0.6"/>
<circle cx="462.64" cy="390.3" r="1.1" fill="#8c7c84" opacity="0.62"/>
<circle cx="464.64" cy="391.2" r="0.8" fill="#d0ac30" opacity="0.6"/>
<circle cx="467.08" cy="390.3" r="1.1" fill="#b4508c" opacity="0.62"/>
<circle cx="469.08" cy="391.2" r="0.8" fill="#d0ac30" opacity="0.6"/>
<circle cx="436.02" cy="394.51" r="1.1" fill="#b4508c" opacity="0.62"/>
<circle cx="438.02" cy="395.41" r="0.8" fill="#d0ac30" opacity="0.6"/>
<circle cx="440.46" cy="394.51" r="1.1" fill="#8c7c84" opacity="0.62"/>
<circle cx="442.46" cy="395.41" r="0.8" fill="#d0ac30" opacity="0.6"/>
<circle cx="444.89" cy="394.51" r="1.1" fill="#b4508c" opacity="0.62"/>
<circle cx="446.89" cy="395.41" r="0.8" fill="#d0ac30" opacity="0.6"/>
<circle cx="449.33" cy="394.51" r="1.1" fill="#8c7c84" opacity="0.62"/>
<circle cx="451.33" cy="395.41" r="0.8" fill="#d0ac30" opacity="0.6"/>
<circle cx="453.77" cy="394.51" r="1.1" fill="#b4508c" opacity="0.62"/>
<circle cx="455.77" cy="395.41" r="0.8" fill="#d0ac30" opacity="0.6"/>
<circle cx="458.21" cy="394.51" r="1.1" fill="#8c7c84" opacity="0.62"/>
<circle cx="460.21" cy="395.41" r="0.8" fill="#d0ac30" opacity="0.6"/>
<circle cx="462.64" cy="394.51" r="1.1" fill="#b4508c" opacity="0.62"/>
<circle cx="464.64" cy="395.41" r="0.8" fill="#d0ac30" opacity="0.6"/>
<circle cx="467.08" cy="394.51" r="1.1" fill="#8c7c84" opacity="0.62"/>
<circle cx="469.08" cy="395.41" r="0.8" fill="#d0ac30" opacity="0.6"/>
<circle cx="436.02" cy="398.72" r="1.1" fill="#8c7c84" opacity="0.62"/>
<circle cx="438.02" cy="399.62" r="0.8" fill="#d0ac30" opacity="0.6"/>
<circle cx="440.46" cy="398.72" r="1.1" fill="#b4508c" opacity="0.62"/>
<circle cx="442.46" cy="399.62" r="0.8" fill="#d0ac30" opacity="0.6"/>
<circle cx="444.89" cy="398.72" r="1.1" fill="#8c7c84" opacity="0.62"/>
<circle cx="446.89" cy="399.62" r="0.8" fill="#d0ac30" opacity="0.6"/>
<circle cx="449.33" cy="398.72" r="1.1" fill="#b4508c" opacity="0.62"/>
<circle cx="451.33" cy="399.62" r="0.8" fill="#d0ac30" opacity="0.6"/>
<circle cx="453.77" cy="398.72" r="1.1" fill="#8c7c84" opacity="0.62"/>
<circle cx="455.77" cy="399.62" r="0.8" fill="#d0ac30" opacity="0.6"/>
<circle cx="458.21" cy="398.72" r="1.1" fill="#b4508c" opacity="0.62"/>
<circle cx="460.21" cy="399.62" r="0.8" fill="#d0ac30" opacity="0.6"/>
<circle cx="462.64" cy="398.72" r="1.1" fill="#8c7c84" opacity="0.62"/>
<circle cx="464.64" cy="399.62" r="0.8" fill="#d0ac30" opacity="0.6"/>
<circle cx="467.08" cy="398.72" r="1.1" fill="#b4508c" opacity="0.62"/>
<circle cx="469.08" cy="399.62" r="0.8" fill="#d0ac30" opacity="0.6"/>
<rect x="520" y="368" width="35.3" height="10.56" fill="#4c90d8" opacity="0.13"/>
<rect x="520" y="378.56" width="35.3" height="17.24" fill="#f8dccc" opacity="0.42"/>
<path d="M520 369.32h35.3M520 371.96h35.3M520 374.6h35.3M520 377.24h35.3M521.36 368v10.56M524.07 368v10.56M526.79 368v10.56M529.5 368v10.56M532.22 368v10.56M534.93 368v10.56M537.65 368v10.56M540.37 368v10.56M543.08 368v10.56M545.8 368v10.56M548.51 368v10.56M551.23 368v10.56M553.94 368v10.56" stroke="#4c90d8" stroke-width="0.45" opacity="0.55" fill="none"/>
<circle cx="521.36" cy="369.32" r="0.8" fill="#3080d8" opacity="0.8"/>
<circle cx="524.07" cy="369.32" r="0.8" fill="#a8acb4" opacity="0.8"/>
<circle cx="526.79" cy="369.32" r="0.8" fill="#4c98e0" opacity="0.8"/>
<circle cx="529.5" cy="369.32" r="0.8" fill="#3080d8" opacity="0.8"/>
<circle cx="532.22" cy="369.32" r="0.8" fill="#a8acb4" opacity="0.8"/>
<circle cx="534.93" cy="369.32" r="0.8" fill="#4c98e0" opacity="0.8"/>
<circle cx="537.65" cy="369.32" r="0.8" fill="#3080d8" opacity="0.8"/>
<circle cx="540.37" cy="369.32" r="0.8" fill="#a8acb4" opacity="0.8"/>
<circle cx="543.08" cy="369.32" r="0.8" fill="#4c98e0" opacity="0.8"/>
<circle cx="545.8" cy="369.32" r="0.8" fill="#3080d8" opacity="0.8"/>
<circle cx="548.51" cy="369.32" r="0.8" fill="#a8acb4" opacity="0.8"/>
<circle cx="551.23" cy="369.32" r="0.8" fill="#4c98e0" opacity="0.8"/>
<circle cx="553.94" cy="369.32" r="0.8" fill="#3080d8" opacity="0.8"/>
<circle cx="521.36" cy="371.96" r="0.8" fill="#a8acb4" opacity="0.8"/>
<circle cx="524.07" cy="371.96" r="0.8" fill="#4c98e0" opacity="0.8"/>
<circle cx="526.79" cy="371.96" r="0.8" fill="#3080d8" opacity="0.8"/>
<circle cx="529.5" cy="371.96" r="0.8" fill="#a8acb4" opacity="0.8"/>
<circle cx="532.22" cy="371.96" r="0.8" fill="#4c98e0" opacity="0.8"/>
<circle cx="534.93" cy="371.96" r="0.8" fill="#3080d8" opacity="0.8"/>
<circle cx="537.65" cy="371.96" r="0.8" fill="#a8acb4" opacity="0.8"/>
<circle cx="540.37" cy="371.96" r="0.8" fill="#4c98e0" opacity="0.8"/>
<circle cx="543.08" cy="371.96" r="0.8" fill="#3080d8" opacity="0.8"/>
<circle cx="545.8" cy="371.96" r="0.8" fill="#a8acb4" opacity="0.8"/>
<circle cx="548.51" cy="371.96" r="0.8" fill="#4c98e0" opacity="0.8"/>
<circle cx="551.23" cy="371.96" r="0.8" fill="#3080d8" opacity="0.8"/>
<circle cx="553.94" cy="371.96" r="0.8" fill="#a8acb4" opacity="0.8"/>
<circle cx="521.36" cy="374.6" r="0.8" fill="#4c98e0" opacity="0.8"/>
<circle cx="524.07" cy="374.6" r="0.8" fill="#3080d8" opacity="0.8"/>
<circle cx="526.79" cy="374.6" r="0.8" fill="#a8acb4" opacity="0.8"/>
<circle cx="529.5" cy="374.6" r="0.8" fill="#4c98e0" opacity="0.8"/>
<circle cx="532.22" cy="374.6" r="0.8" fill="#3080d8" opacity="0.8"/>
<circle cx="534.93" cy="374.6" r="0.8" fill="#a8acb4" opacity="0.8"/>
<circle cx="537.65" cy="374.6" r="0.8" fill="#4c98e0" opacity="0.8"/>
<circle cx="540.37" cy="374.6" r="0.8" fill="#3080d8" opacity="0.8"/>
<circle cx="543.08" cy="374.6" r="0.8" fill="#a8acb4" opacity="0.8"/>
<circle cx="545.8" cy="374.6" r="0.8" fill="#4c98e0" opacity="0.8"/>
<circle cx="548.51" cy="374.6" r="0.8" fill="#3080d8" opacity="0.8"/>
<circle cx="551.23" cy="374.6" r="0.8" fill="#a8acb4" opacity="0.8"/>
<circle cx="553.94" cy="374.6" r="0.8" fill="#4c98e0" opacity="0.8"/>
<circle cx="521.36" cy="377.24" r="0.8" fill="#3080d8" opacity="0.8"/>
<circle cx="524.07" cy="377.24" r="0.8" fill="#a8acb4" opacity="0.8"/>
<circle cx="526.79" cy="377.24" r="0.8" fill="#4c98e0" opacity="0.8"/>
<circle cx="529.5" cy="377.24" r="0.8" fill="#3080d8" opacity="0.8"/>
<circle cx="532.22" cy="377.24" r="0.8" fill="#a8acb4" opacity="0.8"/>
<circle cx="534.93" cy="377.24" r="0.8" fill="#4c98e0" opacity="0.8"/>
<circle cx="537.65" cy="377.24" r="0.8" fill="#3080d8" opacity="0.8"/>
<circle cx="540.37" cy="377.24" r="0.8" fill="#a8acb4" opacity="0.8"/>
<circle cx="543.08" cy="377.24" r="0.8" fill="#4c98e0" opacity="0.8"/>
<circle cx="545.8" cy="377.24" r="0.8" fill="#3080d8" opacity="0.8"/>
<circle cx="548.51" cy="377.24" r="0.8" fill="#a8acb4" opacity="0.8"/>
<circle cx="551.23" cy="377.24" r="0.8" fill="#4c98e0" opacity="0.8"/>
<circle cx="553.94" cy="377.24" r="0.8" fill="#3080d8" opacity="0.8"/>
<circle cx="522.21" cy="381.15" r="1.1" fill="#b4508c" opacity="0.62"/>
<circle cx="524.21" cy="382.05" r="0.8" fill="#d0ac30" opacity="0.6"/>
<circle cx="526.62" cy="381.15" r="1.1" fill="#8c7c84" opacity="0.62"/>
<circle cx="528.62" cy="382.05" r="0.8" fill="#d0ac30" opacity="0.6"/>
<circle cx="531.03" cy="381.15" r="1.1" fill="#b4508c" opacity="0.62"/>
<circle cx="533.03" cy="382.05" r="0.8" fill="#d0ac30" opacity="0.6"/>
<circle cx="535.44" cy="381.15" r="1.1" fill="#8c7c84" opacity="0.62"/>
<circle cx="537.44" cy="382.05" r="0.8" fill="#d0ac30" opacity="0.6"/>
<circle cx="539.86" cy="381.15" r="1.1" fill="#b4508c" opacity="0.62"/>
<circle cx="541.86" cy="382.05" r="0.8" fill="#d0ac30" opacity="0.6"/>
<circle cx="544.27" cy="381.15" r="1.1" fill="#8c7c84" opacity="0.62"/>
<circle cx="546.27" cy="382.05" r="0.8" fill="#d0ac30" opacity="0.6"/>
<circle cx="548.68" cy="381.15" r="1.1" fill="#b4508c" opacity="0.62"/>
<circle cx="550.68" cy="382.05" r="0.8" fill="#d0ac30" opacity="0.6"/>
<circle cx="553.09" cy="381.15" r="1.1" fill="#8c7c84" opacity="0.62"/>
<circle cx="555.09" cy="382.05" r="0.8" fill="#d0ac30" opacity="0.6"/>
<circle cx="522.21" cy="385.46" r="1.1" fill="#8c7c84" opacity="0.62"/>
<circle cx="524.21" cy="386.36" r="0.8" fill="#d0ac30" opacity="0.6"/>
<circle cx="526.62" cy="385.46" r="1.1" fill="#b4508c" opacity="0.62"/>
<circle cx="528.62" cy="386.36" r="0.8" fill="#d0ac30" opacity="0.6"/>
<circle cx="531.03" cy="385.46" r="1.1" fill="#8c7c84" opacity="0.62"/>
<circle cx="533.03" cy="386.36" r="0.8" fill="#d0ac30" opacity="0.6"/>
<circle cx="535.44" cy="385.46" r="1.1" fill="#b4508c" opacity="0.62"/>
<circle cx="537.44" cy="386.36" r="0.8" fill="#d0ac30" opacity="0.6"/>
<circle cx="539.86" cy="385.46" r="1.1" fill="#8c7c84" opacity="0.62"/>
<circle cx="541.86" cy="386.36" r="0.8" fill="#d0ac30" opacity="0.6"/>
<circle cx="544.27" cy="385.46" r="1.1" fill="#b4508c" opacity="0.62"/>
<circle cx="546.27" cy="386.36" r="0.8" fill="#d0ac30" opacity="0.6"/>
<circle cx="548.68" cy="385.46" r="1.1" fill="#8c7c84" opacity="0.62"/>
<circle cx="550.68" cy="386.36" r="0.8" fill="#d0ac30" opacity="0.6"/>
<circle cx="553.09" cy="385.46" r="1.1" fill="#b4508c" opacity="0.62"/>
<circle cx="555.09" cy="386.36" r="0.8" fill="#d0ac30" opacity="0.6"/>
<circle cx="522.21" cy="389.77" r="1.1" fill="#b4508c" opacity="0.62"/>
<circle cx="524.21" cy="390.67" r="0.8" fill="#d0ac30" opacity="0.6"/>
<circle cx="526.62" cy="389.77" r="1.1" fill="#8c7c84" opacity="0.62"/>
<circle cx="528.62" cy="390.67" r="0.8" fill="#d0ac30" opacity="0.6"/>
<circle cx="531.03" cy="389.77" r="1.1" fill="#b4508c" opacity="0.62"/>
<circle cx="533.03" cy="390.67" r="0.8" fill="#d0ac30" opacity="0.6"/>
<circle cx="535.44" cy="389.77" r="1.1" fill="#8c7c84" opacity="0.62"/>
<circle cx="537.44" cy="390.67" r="0.8" fill="#d0ac30" opacity="0.6"/>
<circle cx="539.86" cy="389.77" r="1.1" fill="#b4508c" opacity="0.62"/>
<circle cx="541.86" cy="390.67" r="0.8" fill="#d0ac30" opacity="0.6"/>
<circle cx="544.27" cy="389.77" r="1.1" fill="#8c7c84" opacity="0.62"/>
<circle cx="546.27" cy="390.67" r="0.8" fill="#d0ac30" opacity="0.6"/>
<circle cx="548.68" cy="389.77" r="1.1" fill="#b4508c" opacity="0.62"/>
<circle cx="550.68" cy="390.67" r="0.8" fill="#d0ac30" opacity="0.6"/>
<circle cx="553.09" cy="389.77" r="1.1" fill="#8c7c84" opacity="0.62"/>
<circle cx="555.09" cy="390.67" r="0.8" fill="#d0ac30" opacity="0.6"/>
<circle cx="522.21" cy="394.08" r="1.1" fill="#8c7c84" opacity="0.62"/>
<circle cx="524.21" cy="394.98" r="0.8" fill="#d0ac30" opacity="0.6"/>
<circle cx="526.62" cy="394.08" r="1.1" fill="#b4508c" opacity="0.62"/>
<circle cx="528.62" cy="394.98" r="0.8" fill="#d0ac30" opacity="0.6"/>
<circle cx="531.03" cy="394.08" r="1.1" fill="#8c7c84" opacity="0.62"/>
<circle cx="533.03" cy="394.98" r="0.8" fill="#d0ac30" opacity="0.6"/>
<circle cx="535.44" cy="394.08" r="1.1" fill="#b4508c" opacity="0.62"/>
<circle cx="537.44" cy="394.98" r="0.8" fill="#d0ac30" opacity="0.6"/>
<circle cx="539.86" cy="394.08" r="1.1" fill="#8c7c84" opacity="0.62"/>
<circle cx="541.86" cy="394.98" r="0.8" fill="#d0ac30" opacity="0.6"/>
<circle cx="544.27" cy="394.08" r="1.1" fill="#b4508c" opacity="0.62"/>
<circle cx="546.27" cy="394.98" r="0.8" fill="#d0ac30" opacity="0.6"/>
<circle cx="548.68" cy="394.08" r="1.1" fill="#8c7c84" opacity="0.62"/>
<circle cx="550.68" cy="394.98" r="0.8" fill="#d0ac30" opacity="0.6"/>
<circle cx="553.09" cy="394.08" r="1.1" fill="#b4508c" opacity="0.62"/>
<circle cx="555.09" cy="394.98" r="0.8" fill="#d0ac30" opacity="0.6"/>
<circle cx="508" cy="408.8" r="1.9" fill="#fff" stroke="#777" stroke-width="1.1"/>
<circle cx="570.7" cy="404.6" r="1.8" fill="#70d0ff" stroke="#1468b8" stroke-width="1.5"/>
<path d="M520 375C510 380 505.3 390 506.5 404.2" fill="none" stroke="#111" stroke-width="1.4" marker-end="url(#ah)"/>
<path d="M555.3 374.4C566.5 378 572.2 387 572.2 399.9" fill="none" stroke="#111" stroke-width="1.4" marker-end="url(#ah)"/>
</g>
<g id="pf">
<path d="M682.1 373.7H916.4" stroke="#000" stroke-width="1.9" stroke-dasharray="4.5 3.6"/>
<path d="M701.5 373.7L740.6 373.7L779.7 342.05L818.8 342.05L857.9 373.7L897 373.7" fill="none" stroke="#303030" stroke-width="1.75" stroke-linejoin="round"/>
<path d="M701.5 373.7L740.6 373.7L779.7 455.36L818.8 455.36L857.9 373.7L897 373.7" fill="none" stroke="#e03838" stroke-width="1.75" stroke-linejoin="round"/>
<path d="M701.5 373.7L740.6 373.7L779.7 387.31L818.8 387.31L857.9 373.7L897 373.7" fill="none" stroke="#2068b8" stroke-width="1.75" stroke-linejoin="round"/>
<path d="M701.5 373.7L740.6 373.7L779.7 390.66L818.8 390.66L857.9 373.7L897 373.7" fill="none" stroke="#2ca474" stroke-width="1.75" stroke-linejoin="round"/>
<rect x="682.1" y="285.6" width="234.3" height="189.4" fill="none" stroke="#000" stroke-width="1.9"/>
<path d="M682.1 285.08h2.4" stroke="#000" stroke-width="1.4"/>
<path d="M682.1 297.74h4" stroke="#000" stroke-width="1.4"/>
<text x="678" y="301.64" font-family='"Liberation Serif", "DejaVu Serif", serif' font-size="11.4" font-weight="normal" text-anchor="end" fill="#000" >1.2</text>
<path d="M682.1 310.4h2.4" stroke="#000" stroke-width="1.4"/>
<path d="M682.1 323.06h4" stroke="#000" stroke-width="1.4"/>
<text x="678" y="326.96" font-family='"Liberation Serif", "DejaVu Serif", serif' font-size="11.4" font-weight="normal" text-anchor="end" fill="#000" >0.8</text>
<path d="M682.1 335.72h2.4" stroke="#000" stroke-width="1.4"/>
<path d="M682.1 348.38h4" stroke="#000" stroke-width="1.4"/>
<text x="678" y="352.28" font-family='"Liberation Serif", "DejaVu Serif", serif' font-size="11.4" font-weight="normal" text-anchor="end" fill="#000" >0.4</text>
<path d="M682.1 361.04h2.4" stroke="#000" stroke-width="1.4"/>
<path d="M682.1 373.7h4" stroke="#000" stroke-width="1.4"/>
<text x="678" y="377.6" font-family='"Liberation Serif", "DejaVu Serif", serif' font-size="11.4" font-weight="normal" text-anchor="end" fill="#000" >0.0</text>
<path d="M682.1 386.36h2.4" stroke="#000" stroke-width="1.4"/>
<path d="M682.1 399.02h4" stroke="#000" stroke-width="1.4"/>
<text x="678" y="402.92" font-family='"Liberation Serif", "DejaVu Serif", serif' font-size="11.4" font-weight="normal" text-anchor="end" fill="#000" >-0.4</text>
<path d="M682.1 411.68h2.4" stroke="#000" stroke-width="1.4"/>
<path d="M682.1 424.34h4" stroke="#000" stroke-width="1.4"/>
<text x="678" y="428.24" font-family='"Liberation Serif", "DejaVu Serif", serif' font-size="11.4" font-weight="normal" text-anchor="end" fill="#000" >-0.8</text>
<path d="M682.1 437h2.4" stroke="#000" stroke-width="1.4"/>
<path d="M682.1 449.66h4" stroke="#000" stroke-width="1.4"/>
<text x="678" y="453.56" font-family='"Liberation Serif", "DejaVu Serif", serif' font-size="11.4" font-weight="normal" text-anchor="end" fill="#000" >-1.2</text>
<path d="M682.1 462.32h2.4" stroke="#000" stroke-width="1.4"/>
<path d="M682.1 474.98h4" stroke="#000" stroke-width="1.4"/>
<text x="678" y="478.88" font-family='"Liberation Serif", "DejaVu Serif", serif' font-size="11.4" font-weight="normal" text-anchor="end" fill="#000" >-1.6</text>
<path d="M701.5 475v-4" stroke="#000" stroke-width="1.4"/>
<text x="701.5" y="488.1" font-family='"Liberation Serif", "DejaVu Serif", serif' font-size="11.4" font-weight="normal" text-anchor="middle" fill="#000" >1</text>
<path d="M721.05 475v-2.4" stroke="#000" stroke-width="1.4"/>
<path d="M740.6 475v-4" stroke="#000" stroke-width="1.4"/>
<text x="740.6" y="488.1" font-family='"Liberation Serif", "DejaVu Serif", serif' font-size="11.4" font-weight="normal" text-anchor="middle" fill="#000" >2</text>
<path d="M760.15 475v-2.4" stroke="#000" stroke-width="1.4"/>
<path d="M779.7 475v-4" stroke="#000" stroke-width="1.4"/>
<text x="779.7" y="488.1" font-family='"Liberation Serif", "DejaVu Serif", serif' font-size="11.4" font-weight="normal" text-anchor="middle" fill="#000" >3</text>
<path d="M799.25 475v-2.4" stroke="#000" stroke-width="1.4"/>
<path d="M818.8 475v-4" stroke="#000" stroke-width="1.4"/>
<text x="818.8" y="488.1" font-family='"Liberation Serif", "DejaVu Serif", serif' font-size="11.4" font-weight="normal" text-anchor="middle" fill="#000" >4</text>
<path d="M838.35 475v-2.4" stroke="#000" stroke-width="1.4"/>
<path d="M857.9 475v-4" stroke="#000" stroke-width="1.4"/>
<text x="857.9" y="488.1" font-family='"Liberation Serif", "DejaVu Serif", serif' font-size="11.4" font-weight="normal" text-anchor="middle" fill="#000" >5</text>
<path d="M877.45 475v-2.4" stroke="#000" stroke-width="1.4"/>
<path d="M897 475v-4" stroke="#000" stroke-width="1.4"/>
<text x="897" y="488.1" font-family='"Liberation Serif", "DejaVu Serif", serif' font-size="11.4" font-weight="normal" text-anchor="middle" fill="#000" >6</text>
<text x="799.8" y="508.2" font-family='"Liberation Serif", "DejaVu Serif", serif' font-size="12.6" font-weight="normal" text-anchor="middle" fill="#000" >Reaction coordinate</text>
<text x="690.8" y="308" font-family='"Liberation Serif", "DejaVu Serif", serif' font-size="22" font-weight="normal" text-anchor="start" fill="#000" >(f)</text>
<text x="704.7" y="370" font-family='"Liberation Serif", "DejaVu Serif", serif' font-size="9.6" fill="#000" stroke="#000" stroke-width="0.2">H<tspan font-size="6" dy="-3.6">+</tspan><tspan dy="3.6">+e</tspan><tspan font-size="6" dy="-3.6">-</tspan></text>
<text x="864.3" y="370" font-family='"Liberation Serif", "DejaVu Serif", serif' font-size="9.6" fill="#000" stroke="#000" stroke-width="0.2">1/2 H<tspan font-size="6" dy="2">2</tspan></text>
<text transform="translate(645.2,384) rotate(-90)" font-family='"Liberation Serif", "DejaVu Serif", serif' font-size="12.3" text-anchor="middle" fill="#000">ΔG<tspan font-size="7.6" dy="2.6">H*</tspan><tspan dy="-2.6"> (eV)</tspan></text>
<path d="M844 295.25H867" stroke="#303030" stroke-width="1.5"/>
<text x="869.7" y="298.65" font-family='"Liberation Serif", "DejaVu Serif", serif' font-size="10.5" font-weight="normal" text-anchor="start" fill="#000" stroke="#000" stroke-width="0.25">ZCS</text>
<path d="M844 308.5H867" stroke="#e03838" stroke-width="1.5"/>
<text x="869.7" y="311.9" font-family='"Liberation Serif", "DejaVu Serif", serif' font-size="10.5" font-weight="normal" text-anchor="start" fill="#000" stroke="#000" stroke-width="0.25">Pd/ZCS</text>
<path d="M844 321.9H867" stroke="#2068b8" stroke-width="1.5"/>
<text x="869.7" y="325.3" font-family='"Liberation Serif", "DejaVu Serif", serif' font-size="10.5" font-weight="normal" text-anchor="start" fill="#000" stroke="#000" stroke-width="0.25">Pt/ZCS</text>
<path d="M844 335H867" stroke="#2ca474" stroke-width="1.5"/>
<text x="869.7" y="338.4" font-family='"Liberation Serif", "DejaVu Serif", serif' font-size="10.5" font-weight="normal" text-anchor="start" fill="#000" stroke="#000" stroke-width="0.25">PtPd/ZCS</text>
</g>
</g>
<rect x="945.2" y="0" width="3" height="514" fill="#000"/>
</svg></body></html>
